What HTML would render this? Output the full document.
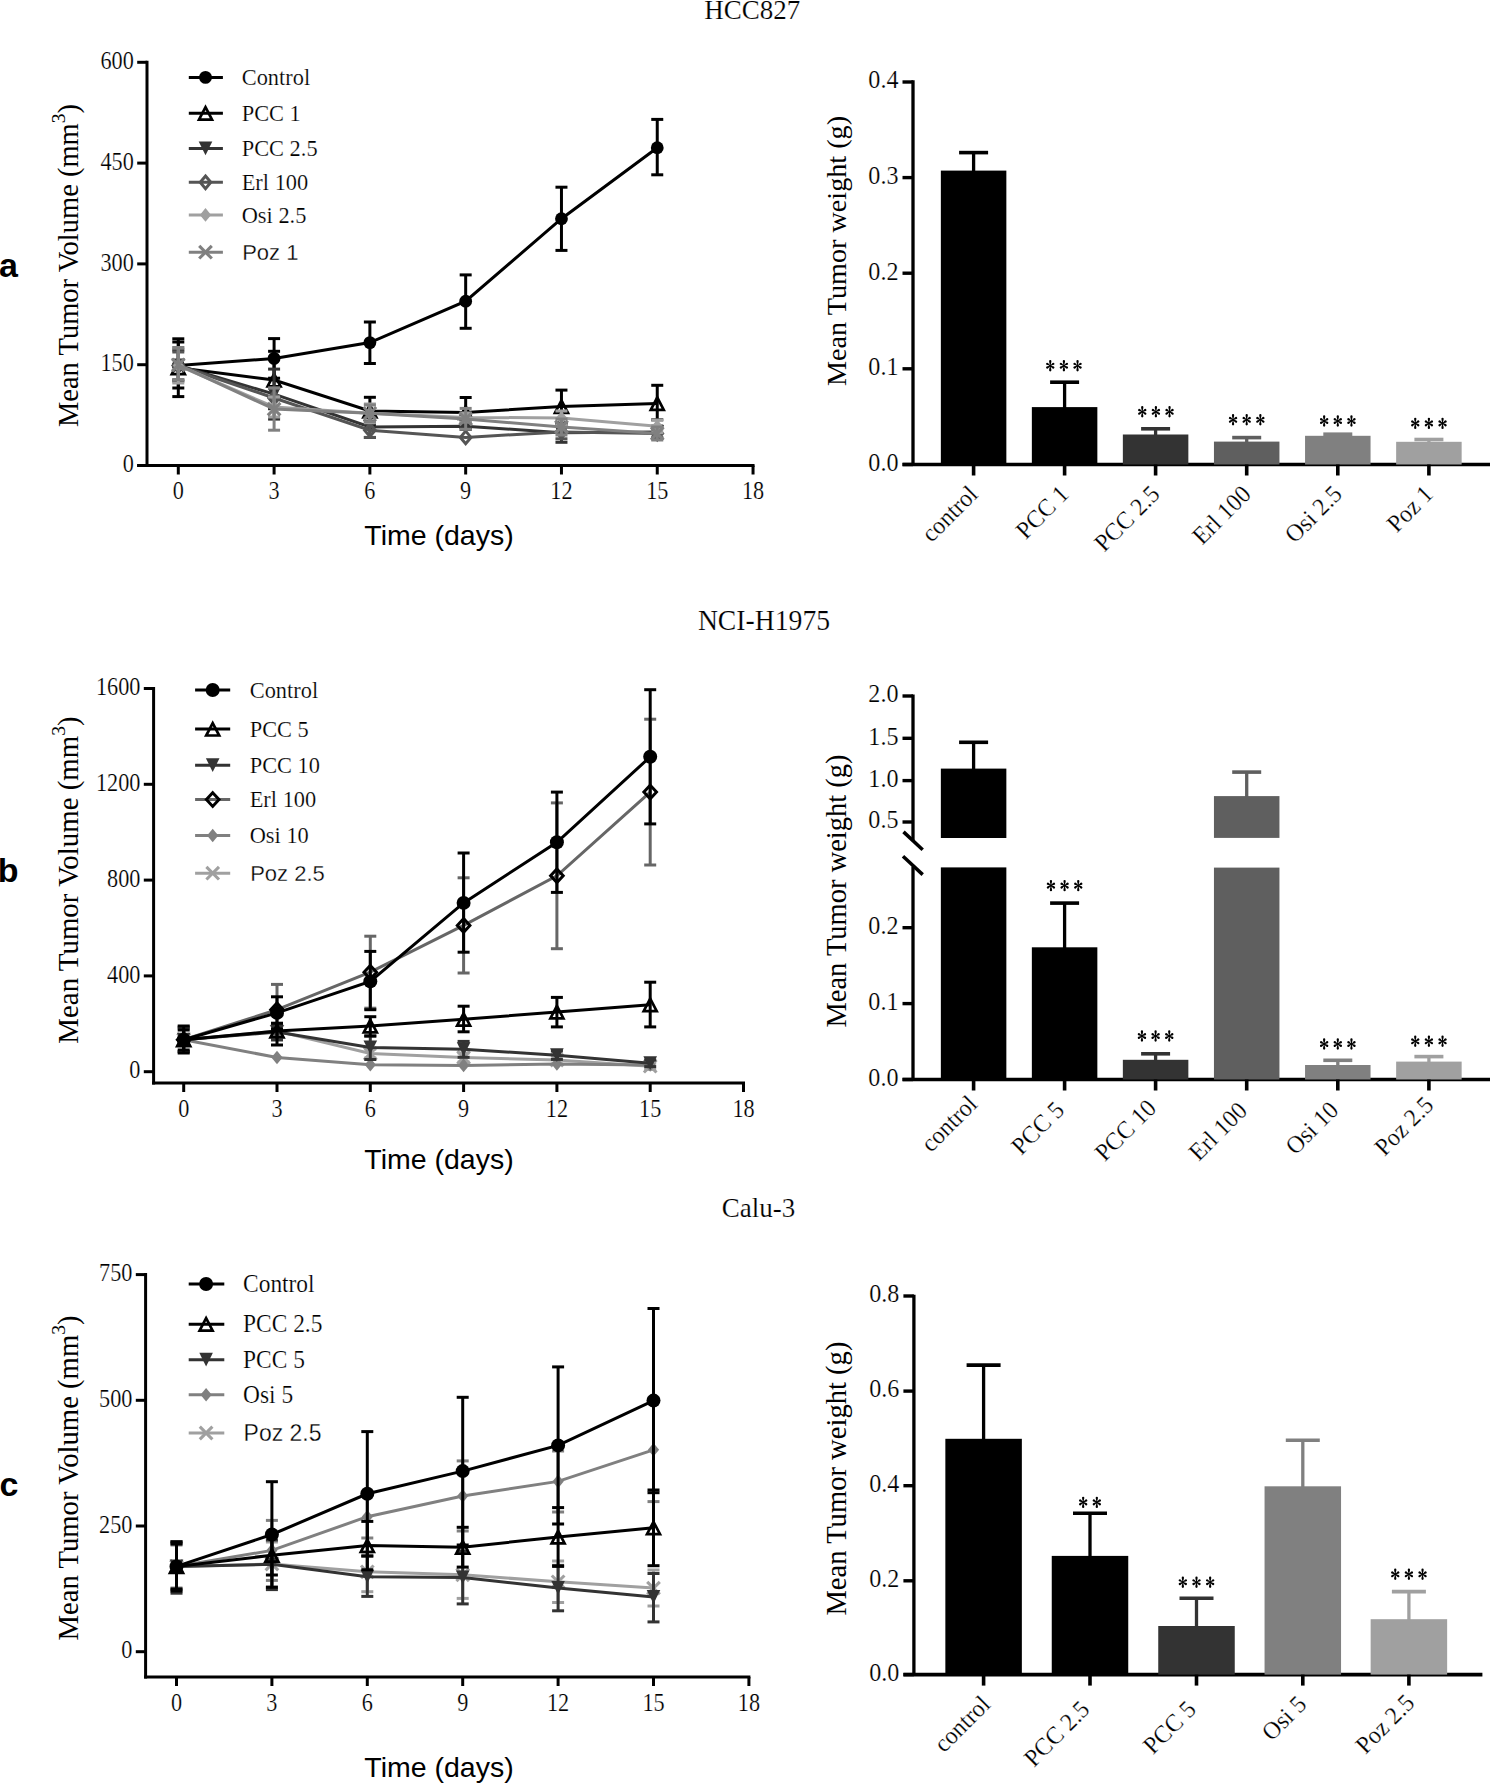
<!DOCTYPE html>
<html><head><meta charset="utf-8"><title>Figure</title>
<style>html,body{margin:0;padding:0;background:#fff;width:1493px;height:1783px;overflow:hidden}svg{display:block}</style>
</head><body>
<svg width="1493" height="1783" viewBox="0 0 1493 1783"><line x1="147" y1="60.8" x2="147" y2="467" stroke="#000" stroke-width="3" stroke-linecap="butt"/>
<line x1="137.2" y1="465.5" x2="754.54" y2="465.5" stroke="#000" stroke-width="3" stroke-linecap="butt"/>
<line x1="137.2" y1="62.3" x2="147" y2="62.3" stroke="#000" stroke-width="3" stroke-linecap="butt"/>
<text x="0" y="0" font-family='"Liberation Serif", serif' font-size="24.3" text-anchor="end" font-weight="normal" fill="#000" transform="translate(133.8,69) scale(0.915,1)" stroke="#fff" stroke-width="0.2">600</text>
<line x1="137.2" y1="163.1" x2="147" y2="163.1" stroke="#000" stroke-width="3" stroke-linecap="butt"/>
<text x="0" y="0" font-family='"Liberation Serif", serif' font-size="24.3" text-anchor="end" font-weight="normal" fill="#000" transform="translate(133.8,169.8) scale(0.915,1)" stroke="#fff" stroke-width="0.2">450</text>
<line x1="137.2" y1="263.9" x2="147" y2="263.9" stroke="#000" stroke-width="3" stroke-linecap="butt"/>
<text x="0" y="0" font-family='"Liberation Serif", serif' font-size="24.3" text-anchor="end" font-weight="normal" fill="#000" transform="translate(133.8,270.6) scale(0.915,1)" stroke="#fff" stroke-width="0.2">300</text>
<line x1="137.2" y1="364.7" x2="147" y2="364.7" stroke="#000" stroke-width="3" stroke-linecap="butt"/>
<text x="0" y="0" font-family='"Liberation Serif", serif' font-size="24.3" text-anchor="end" font-weight="normal" fill="#000" transform="translate(133.8,371.4) scale(0.915,1)" stroke="#fff" stroke-width="0.2">150</text>
<line x1="137.2" y1="465.5" x2="147" y2="465.5" stroke="#000" stroke-width="3" stroke-linecap="butt"/>
<text x="0" y="0" font-family='"Liberation Serif", serif' font-size="24.3" text-anchor="end" font-weight="normal" fill="#000" transform="translate(133.8,472.2) scale(0.915,1)" stroke="#fff" stroke-width="0.2">0</text>
<line x1="178.3" y1="465.5" x2="178.3" y2="474.5" stroke="#000" stroke-width="3" stroke-linecap="butt"/>
<text x="0" y="0" font-family='"Liberation Serif", serif' font-size="24.3" text-anchor="middle" font-weight="normal" fill="#000" transform="translate(178.3,499) scale(0.915,1)" stroke="#fff" stroke-width="0.2">0</text>
<line x1="274.09" y1="465.5" x2="274.09" y2="474.5" stroke="#000" stroke-width="3" stroke-linecap="butt"/>
<text x="0" y="0" font-family='"Liberation Serif", serif' font-size="24.3" text-anchor="middle" font-weight="normal" fill="#000" transform="translate(274.09,499) scale(0.915,1)" stroke="#fff" stroke-width="0.2">3</text>
<line x1="369.88" y1="465.5" x2="369.88" y2="474.5" stroke="#000" stroke-width="3" stroke-linecap="butt"/>
<text x="0" y="0" font-family='"Liberation Serif", serif' font-size="24.3" text-anchor="middle" font-weight="normal" fill="#000" transform="translate(369.88,499) scale(0.915,1)" stroke="#fff" stroke-width="0.2">6</text>
<line x1="465.67" y1="465.5" x2="465.67" y2="474.5" stroke="#000" stroke-width="3" stroke-linecap="butt"/>
<text x="0" y="0" font-family='"Liberation Serif", serif' font-size="24.3" text-anchor="middle" font-weight="normal" fill="#000" transform="translate(465.67,499) scale(0.915,1)" stroke="#fff" stroke-width="0.2">9</text>
<line x1="561.46" y1="465.5" x2="561.46" y2="474.5" stroke="#000" stroke-width="3" stroke-linecap="butt"/>
<text x="0" y="0" font-family='"Liberation Serif", serif' font-size="24.3" text-anchor="middle" font-weight="normal" fill="#000" transform="translate(561.46,499) scale(0.915,1)" stroke="#fff" stroke-width="0.2">12</text>
<line x1="657.25" y1="465.5" x2="657.25" y2="474.5" stroke="#000" stroke-width="3" stroke-linecap="butt"/>
<text x="0" y="0" font-family='"Liberation Serif", serif' font-size="24.3" text-anchor="middle" font-weight="normal" fill="#000" transform="translate(657.25,499) scale(0.915,1)" stroke="#fff" stroke-width="0.2">15</text>
<line x1="753.04" y1="465.5" x2="753.04" y2="474.5" stroke="#000" stroke-width="3" stroke-linecap="butt"/>
<text x="0" y="0" font-family='"Liberation Serif", serif' font-size="24.3" text-anchor="middle" font-weight="normal" fill="#000" transform="translate(753.04,499) scale(0.915,1)" stroke="#fff" stroke-width="0.2">18</text>
<text x="439" y="544.6" font-family='"Liberation Sans", sans-serif' font-size="28.5" text-anchor="middle" font-weight="normal" fill="#000">Time (days)</text>
<text x="0" y="0" font-family='"Liberation Serif", serif' font-size="28.5" text-anchor="middle" transform="translate(77.9,265.5) rotate(-90)">Mean Tumor Volume (mm<tspan dy="-12.5" font-size="19.5">3</tspan><tspan dy="12.5">)</tspan></text>
<polyline points="178.3,365.5 274.09,358.4 369.88,342.6 465.67,301.2 561.46,218.7 657.25,147.7" fill="none" stroke="#000" stroke-width="3" stroke-linejoin="miter"/>
<line x1="178.3" y1="342" x2="178.3" y2="388" stroke="#000" stroke-width="3" stroke-linecap="butt"/>
<line x1="172.3" y1="342" x2="184.3" y2="342" stroke="#000" stroke-width="3" stroke-linecap="butt"/>
<line x1="172.3" y1="388" x2="184.3" y2="388" stroke="#000" stroke-width="3" stroke-linecap="butt"/>
<line x1="274.09" y1="338.6" x2="274.09" y2="378.2" stroke="#000" stroke-width="3" stroke-linecap="butt"/>
<line x1="268.09" y1="338.6" x2="280.09" y2="338.6" stroke="#000" stroke-width="3" stroke-linecap="butt"/>
<line x1="268.09" y1="378.2" x2="280.09" y2="378.2" stroke="#000" stroke-width="3" stroke-linecap="butt"/>
<line x1="369.88" y1="322" x2="369.88" y2="363.5" stroke="#000" stroke-width="3" stroke-linecap="butt"/>
<line x1="363.88" y1="322" x2="375.88" y2="322" stroke="#000" stroke-width="3" stroke-linecap="butt"/>
<line x1="363.88" y1="363.5" x2="375.88" y2="363.5" stroke="#000" stroke-width="3" stroke-linecap="butt"/>
<line x1="465.67" y1="274.9" x2="465.67" y2="328.3" stroke="#000" stroke-width="3" stroke-linecap="butt"/>
<line x1="459.67" y1="274.9" x2="471.67" y2="274.9" stroke="#000" stroke-width="3" stroke-linecap="butt"/>
<line x1="459.67" y1="328.3" x2="471.67" y2="328.3" stroke="#000" stroke-width="3" stroke-linecap="butt"/>
<line x1="561.46" y1="187.2" x2="561.46" y2="250.4" stroke="#000" stroke-width="3" stroke-linecap="butt"/>
<line x1="555.46" y1="187.2" x2="567.46" y2="187.2" stroke="#000" stroke-width="3" stroke-linecap="butt"/>
<line x1="555.46" y1="250.4" x2="567.46" y2="250.4" stroke="#000" stroke-width="3" stroke-linecap="butt"/>
<line x1="657.25" y1="119.4" x2="657.25" y2="174.8" stroke="#000" stroke-width="3" stroke-linecap="butt"/>
<line x1="651.25" y1="119.4" x2="663.25" y2="119.4" stroke="#000" stroke-width="3" stroke-linecap="butt"/>
<line x1="651.25" y1="174.8" x2="663.25" y2="174.8" stroke="#000" stroke-width="3" stroke-linecap="butt"/>
<circle cx="178.3" cy="365.5" r="6.4" fill="#000"/>
<circle cx="274.09" cy="358.4" r="6.4" fill="#000"/>
<circle cx="369.88" cy="342.6" r="6.4" fill="#000"/>
<circle cx="465.67" cy="301.2" r="6.4" fill="#000"/>
<circle cx="561.46" cy="218.7" r="6.4" fill="#000"/>
<circle cx="657.25" cy="147.7" r="6.4" fill="#000"/>
<polyline points="178.3,367.7 274.09,380 369.88,410.9 465.67,412.5 561.46,406.5 657.25,403.5" fill="none" stroke="#000" stroke-width="3" stroke-linejoin="miter"/>
<line x1="178.3" y1="338.8" x2="178.3" y2="396.6" stroke="#000" stroke-width="3" stroke-linecap="butt"/>
<line x1="172.3" y1="338.8" x2="184.3" y2="338.8" stroke="#000" stroke-width="3" stroke-linecap="butt"/>
<line x1="172.3" y1="396.6" x2="184.3" y2="396.6" stroke="#000" stroke-width="3" stroke-linecap="butt"/>
<line x1="274.09" y1="351.3" x2="274.09" y2="408.7" stroke="#000" stroke-width="3" stroke-linecap="butt"/>
<line x1="268.09" y1="351.3" x2="280.09" y2="351.3" stroke="#000" stroke-width="3" stroke-linecap="butt"/>
<line x1="268.09" y1="408.7" x2="280.09" y2="408.7" stroke="#000" stroke-width="3" stroke-linecap="butt"/>
<line x1="369.88" y1="397.3" x2="369.88" y2="424.5" stroke="#000" stroke-width="3" stroke-linecap="butt"/>
<line x1="363.88" y1="397.3" x2="375.88" y2="397.3" stroke="#000" stroke-width="3" stroke-linecap="butt"/>
<line x1="363.88" y1="424.5" x2="375.88" y2="424.5" stroke="#000" stroke-width="3" stroke-linecap="butt"/>
<line x1="465.67" y1="397.5" x2="465.67" y2="427.5" stroke="#000" stroke-width="3" stroke-linecap="butt"/>
<line x1="459.67" y1="397.5" x2="471.67" y2="397.5" stroke="#000" stroke-width="3" stroke-linecap="butt"/>
<line x1="459.67" y1="427.5" x2="471.67" y2="427.5" stroke="#000" stroke-width="3" stroke-linecap="butt"/>
<line x1="561.46" y1="390.1" x2="561.46" y2="423" stroke="#000" stroke-width="3" stroke-linecap="butt"/>
<line x1="555.46" y1="390.1" x2="567.46" y2="390.1" stroke="#000" stroke-width="3" stroke-linecap="butt"/>
<line x1="555.46" y1="423" x2="567.46" y2="423" stroke="#000" stroke-width="3" stroke-linecap="butt"/>
<line x1="657.25" y1="385.3" x2="657.25" y2="419.8" stroke="#000" stroke-width="3" stroke-linecap="butt"/>
<line x1="651.25" y1="385.3" x2="663.25" y2="385.3" stroke="#000" stroke-width="3" stroke-linecap="butt"/>
<line x1="651.25" y1="419.8" x2="663.25" y2="419.8" stroke="#000" stroke-width="3" stroke-linecap="butt"/>
<path d="M178.3,361.7 L184.8,374.1 L171.8,374.1 Z" fill="none" stroke="#000" stroke-width="2.7" stroke-linejoin="miter" stroke-miterlimit="10"/>
<path d="M274.09,374 L280.59,386.4 L267.59,386.4 Z" fill="none" stroke="#000" stroke-width="2.7" stroke-linejoin="miter" stroke-miterlimit="10"/>
<path d="M369.88,404.9 L376.38,417.3 L363.38,417.3 Z" fill="none" stroke="#000" stroke-width="2.7" stroke-linejoin="miter" stroke-miterlimit="10"/>
<path d="M465.67,406.5 L472.17,418.9 L459.17,418.9 Z" fill="none" stroke="#000" stroke-width="2.7" stroke-linejoin="miter" stroke-miterlimit="10"/>
<path d="M561.46,400.5 L567.96,412.9 L554.96,412.9 Z" fill="none" stroke="#000" stroke-width="2.7" stroke-linejoin="miter" stroke-miterlimit="10"/>
<path d="M657.25,397.5 L663.75,409.9 L650.75,409.9 Z" fill="none" stroke="#000" stroke-width="2.7" stroke-linejoin="miter" stroke-miterlimit="10"/>
<polyline points="178.3,365.5 274.09,394.1 369.88,427 465.67,426.2 561.46,432.7 657.25,431.9" fill="none" stroke="#333" stroke-width="3" stroke-linejoin="miter"/>
<line x1="178.3" y1="350" x2="178.3" y2="381" stroke="#333" stroke-width="3" stroke-linecap="butt"/>
<line x1="172.3" y1="350" x2="184.3" y2="350" stroke="#333" stroke-width="3" stroke-linecap="butt"/>
<line x1="172.3" y1="381" x2="184.3" y2="381" stroke="#333" stroke-width="3" stroke-linecap="butt"/>
<line x1="274.09" y1="369.1" x2="274.09" y2="419.1" stroke="#333" stroke-width="3" stroke-linecap="butt"/>
<line x1="268.09" y1="369.1" x2="280.09" y2="369.1" stroke="#333" stroke-width="3" stroke-linecap="butt"/>
<line x1="268.09" y1="419.1" x2="280.09" y2="419.1" stroke="#333" stroke-width="3" stroke-linecap="butt"/>
<line x1="369.88" y1="418" x2="369.88" y2="437.5" stroke="#333" stroke-width="3" stroke-linecap="butt"/>
<line x1="363.88" y1="418" x2="375.88" y2="418" stroke="#333" stroke-width="3" stroke-linecap="butt"/>
<line x1="363.88" y1="437.5" x2="375.88" y2="437.5" stroke="#333" stroke-width="3" stroke-linecap="butt"/>
<line x1="465.67" y1="423" x2="465.67" y2="429.5" stroke="#333" stroke-width="3" stroke-linecap="butt"/>
<line x1="459.67" y1="423" x2="471.67" y2="423" stroke="#333" stroke-width="3" stroke-linecap="butt"/>
<line x1="459.67" y1="429.5" x2="471.67" y2="429.5" stroke="#333" stroke-width="3" stroke-linecap="butt"/>
<line x1="561.46" y1="423" x2="561.46" y2="442.3" stroke="#333" stroke-width="3" stroke-linecap="butt"/>
<line x1="555.46" y1="423" x2="567.46" y2="423" stroke="#333" stroke-width="3" stroke-linecap="butt"/>
<line x1="555.46" y1="442.3" x2="567.46" y2="442.3" stroke="#333" stroke-width="3" stroke-linecap="butt"/>
<line x1="657.25" y1="426" x2="657.25" y2="437.8" stroke="#333" stroke-width="3" stroke-linecap="butt"/>
<line x1="651.25" y1="426" x2="663.25" y2="426" stroke="#333" stroke-width="3" stroke-linecap="butt"/>
<line x1="651.25" y1="437.8" x2="663.25" y2="437.8" stroke="#333" stroke-width="3" stroke-linecap="butt"/>
<path d="M171.5,358.5 L185.1,358.5 L178.3,372.2 Z" fill="#333"/>
<path d="M267.29,387.1 L280.89,387.1 L274.09,400.8 Z" fill="#333"/>
<path d="M363.08,420 L376.68,420 L369.88,433.7 Z" fill="#333"/>
<path d="M458.87,419.2 L472.47,419.2 L465.67,432.9 Z" fill="#333"/>
<path d="M554.66,425.7 L568.26,425.7 L561.46,439.4 Z" fill="#333"/>
<path d="M650.45,424.9 L664.05,424.9 L657.25,438.6 Z" fill="#333"/>
<polyline points="178.3,365.5 274.09,398 369.88,430.2 465.67,437.4 561.46,431.9 657.25,433.5" fill="none" stroke="#555" stroke-width="3" stroke-linejoin="miter"/>
<line x1="178.3" y1="352" x2="178.3" y2="380" stroke="#555" stroke-width="3" stroke-linecap="butt"/>
<line x1="172.3" y1="352" x2="184.3" y2="352" stroke="#555" stroke-width="3" stroke-linecap="butt"/>
<line x1="172.3" y1="380" x2="184.3" y2="380" stroke="#555" stroke-width="3" stroke-linecap="butt"/>
<line x1="274.09" y1="388" x2="274.09" y2="408" stroke="#555" stroke-width="3" stroke-linecap="butt"/>
<line x1="268.09" y1="388" x2="280.09" y2="388" stroke="#555" stroke-width="3" stroke-linecap="butt"/>
<line x1="268.09" y1="408" x2="280.09" y2="408" stroke="#555" stroke-width="3" stroke-linecap="butt"/>
<line x1="369.88" y1="423" x2="369.88" y2="437.4" stroke="#555" stroke-width="3" stroke-linecap="butt"/>
<line x1="363.88" y1="423" x2="375.88" y2="423" stroke="#555" stroke-width="3" stroke-linecap="butt"/>
<line x1="363.88" y1="437.4" x2="375.88" y2="437.4" stroke="#555" stroke-width="3" stroke-linecap="butt"/>
<line x1="561.46" y1="425" x2="561.46" y2="438.8" stroke="#555" stroke-width="3" stroke-linecap="butt"/>
<line x1="555.46" y1="425" x2="567.46" y2="425" stroke="#555" stroke-width="3" stroke-linecap="butt"/>
<line x1="555.46" y1="438.8" x2="567.46" y2="438.8" stroke="#555" stroke-width="3" stroke-linecap="butt"/>
<line x1="657.25" y1="429" x2="657.25" y2="438" stroke="#555" stroke-width="3" stroke-linecap="butt"/>
<line x1="651.25" y1="429" x2="663.25" y2="429" stroke="#555" stroke-width="3" stroke-linecap="butt"/>
<line x1="651.25" y1="438" x2="663.25" y2="438" stroke="#555" stroke-width="3" stroke-linecap="butt"/>
<path d="M178.3,359.2 L183.6,365.5 L178.3,371.8 L173,365.5 Z" fill="none" stroke="#555" stroke-width="3" stroke-linejoin="miter"/>
<path d="M274.09,391.7 L279.39,398 L274.09,404.3 L268.79,398 Z" fill="none" stroke="#555" stroke-width="3" stroke-linejoin="miter"/>
<path d="M369.88,423.9 L375.18,430.2 L369.88,436.5 L364.58,430.2 Z" fill="none" stroke="#555" stroke-width="3" stroke-linejoin="miter"/>
<path d="M465.67,431.1 L470.97,437.4 L465.67,443.7 L460.37,437.4 Z" fill="none" stroke="#555" stroke-width="3" stroke-linejoin="miter"/>
<path d="M561.46,425.6 L566.76,431.9 L561.46,438.2 L556.16,431.9 Z" fill="none" stroke="#555" stroke-width="3" stroke-linejoin="miter"/>
<path d="M657.25,427.2 L662.55,433.5 L657.25,439.8 L651.95,433.5 Z" fill="none" stroke="#555" stroke-width="3" stroke-linejoin="miter"/>
<polyline points="178.3,365.5 274.09,407 369.88,413.3 465.67,417.4 561.46,417.9 657.25,426.3" fill="none" stroke="#a0a0a0" stroke-width="3" stroke-linejoin="miter"/>
<line x1="178.3" y1="348" x2="178.3" y2="383" stroke="#a0a0a0" stroke-width="3" stroke-linecap="butt"/>
<line x1="172.3" y1="348" x2="184.3" y2="348" stroke="#a0a0a0" stroke-width="3" stroke-linecap="butt"/>
<line x1="172.3" y1="383" x2="184.3" y2="383" stroke="#a0a0a0" stroke-width="3" stroke-linecap="butt"/>
<line x1="274.09" y1="397" x2="274.09" y2="417" stroke="#a0a0a0" stroke-width="3" stroke-linecap="butt"/>
<line x1="268.09" y1="397" x2="280.09" y2="397" stroke="#a0a0a0" stroke-width="3" stroke-linecap="butt"/>
<line x1="268.09" y1="417" x2="280.09" y2="417" stroke="#a0a0a0" stroke-width="3" stroke-linecap="butt"/>
<line x1="369.88" y1="404" x2="369.88" y2="422.6" stroke="#a0a0a0" stroke-width="3" stroke-linecap="butt"/>
<line x1="363.88" y1="404" x2="375.88" y2="404" stroke="#a0a0a0" stroke-width="3" stroke-linecap="butt"/>
<line x1="363.88" y1="422.6" x2="375.88" y2="422.6" stroke="#a0a0a0" stroke-width="3" stroke-linecap="butt"/>
<line x1="465.67" y1="413" x2="465.67" y2="422" stroke="#a0a0a0" stroke-width="3" stroke-linecap="butt"/>
<line x1="459.67" y1="413" x2="471.67" y2="413" stroke="#a0a0a0" stroke-width="3" stroke-linecap="butt"/>
<line x1="459.67" y1="422" x2="471.67" y2="422" stroke="#a0a0a0" stroke-width="3" stroke-linecap="butt"/>
<line x1="561.46" y1="411" x2="561.46" y2="424.8" stroke="#a0a0a0" stroke-width="3" stroke-linecap="butt"/>
<line x1="555.46" y1="411" x2="567.46" y2="411" stroke="#a0a0a0" stroke-width="3" stroke-linecap="butt"/>
<line x1="555.46" y1="424.8" x2="567.46" y2="424.8" stroke="#a0a0a0" stroke-width="3" stroke-linecap="butt"/>
<line x1="657.25" y1="420" x2="657.25" y2="432.6" stroke="#a0a0a0" stroke-width="3" stroke-linecap="butt"/>
<line x1="651.25" y1="420" x2="663.25" y2="420" stroke="#a0a0a0" stroke-width="3" stroke-linecap="butt"/>
<line x1="651.25" y1="432.6" x2="663.25" y2="432.6" stroke="#a0a0a0" stroke-width="3" stroke-linecap="butt"/>
<path d="M178.3,358.7 L183.9,365.5 L178.3,372.3 L172.7,365.5 Z" fill="#a0a0a0"/>
<path d="M274.09,400.2 L279.69,407 L274.09,413.8 L268.49,407 Z" fill="#a0a0a0"/>
<path d="M369.88,406.5 L375.48,413.3 L369.88,420.1 L364.28,413.3 Z" fill="#a0a0a0"/>
<path d="M465.67,410.6 L471.27,417.4 L465.67,424.2 L460.07,417.4 Z" fill="#a0a0a0"/>
<path d="M561.46,411.1 L567.06,417.9 L561.46,424.7 L555.86,417.9 Z" fill="#a0a0a0"/>
<path d="M657.25,419.5 L662.85,426.3 L657.25,433.1 L651.65,426.3 Z" fill="#a0a0a0"/>
<polyline points="178.3,365 274.09,409.1 369.88,413.3 465.67,418.9 561.46,427 657.25,433.5" fill="none" stroke="#808080" stroke-width="3" stroke-linejoin="miter"/>
<line x1="178.3" y1="347.5" x2="178.3" y2="379.5" stroke="#808080" stroke-width="3" stroke-linecap="butt"/>
<line x1="172.3" y1="347.5" x2="184.3" y2="347.5" stroke="#808080" stroke-width="3" stroke-linecap="butt"/>
<line x1="172.3" y1="379.5" x2="184.3" y2="379.5" stroke="#808080" stroke-width="3" stroke-linecap="butt"/>
<line x1="274.09" y1="388" x2="274.09" y2="430.2" stroke="#808080" stroke-width="3" stroke-linecap="butt"/>
<line x1="268.09" y1="388" x2="280.09" y2="388" stroke="#808080" stroke-width="3" stroke-linecap="butt"/>
<line x1="268.09" y1="430.2" x2="280.09" y2="430.2" stroke="#808080" stroke-width="3" stroke-linecap="butt"/>
<line x1="369.88" y1="405" x2="369.88" y2="421.6" stroke="#808080" stroke-width="3" stroke-linecap="butt"/>
<line x1="363.88" y1="405" x2="375.88" y2="405" stroke="#808080" stroke-width="3" stroke-linecap="butt"/>
<line x1="363.88" y1="421.6" x2="375.88" y2="421.6" stroke="#808080" stroke-width="3" stroke-linecap="butt"/>
<line x1="465.67" y1="408.4" x2="465.67" y2="429.3" stroke="#808080" stroke-width="3" stroke-linecap="butt"/>
<line x1="459.67" y1="408.4" x2="471.67" y2="408.4" stroke="#808080" stroke-width="3" stroke-linecap="butt"/>
<line x1="459.67" y1="429.3" x2="471.67" y2="429.3" stroke="#808080" stroke-width="3" stroke-linecap="butt"/>
<line x1="561.46" y1="419" x2="561.46" y2="435" stroke="#808080" stroke-width="3" stroke-linecap="butt"/>
<line x1="555.46" y1="419" x2="567.46" y2="419" stroke="#808080" stroke-width="3" stroke-linecap="butt"/>
<line x1="555.46" y1="435" x2="567.46" y2="435" stroke="#808080" stroke-width="3" stroke-linecap="butt"/>
<line x1="657.25" y1="427" x2="657.25" y2="440" stroke="#808080" stroke-width="3" stroke-linecap="butt"/>
<line x1="651.25" y1="427" x2="663.25" y2="427" stroke="#808080" stroke-width="3" stroke-linecap="butt"/>
<line x1="651.25" y1="440" x2="663.25" y2="440" stroke="#808080" stroke-width="3" stroke-linecap="butt"/>
<line x1="172" y1="358.7" x2="184.6" y2="371.3" stroke="#808080" stroke-width="3.1" stroke-linecap="butt"/>
<line x1="172" y1="371.3" x2="184.6" y2="358.7" stroke="#808080" stroke-width="3.1" stroke-linecap="butt"/>
<line x1="267.79" y1="402.8" x2="280.39" y2="415.4" stroke="#808080" stroke-width="3.1" stroke-linecap="butt"/>
<line x1="267.79" y1="415.4" x2="280.39" y2="402.8" stroke="#808080" stroke-width="3.1" stroke-linecap="butt"/>
<line x1="363.58" y1="407" x2="376.18" y2="419.6" stroke="#808080" stroke-width="3.1" stroke-linecap="butt"/>
<line x1="363.58" y1="419.6" x2="376.18" y2="407" stroke="#808080" stroke-width="3.1" stroke-linecap="butt"/>
<line x1="459.37" y1="412.6" x2="471.97" y2="425.2" stroke="#808080" stroke-width="3.1" stroke-linecap="butt"/>
<line x1="459.37" y1="425.2" x2="471.97" y2="412.6" stroke="#808080" stroke-width="3.1" stroke-linecap="butt"/>
<line x1="555.16" y1="420.7" x2="567.76" y2="433.3" stroke="#808080" stroke-width="3.1" stroke-linecap="butt"/>
<line x1="555.16" y1="433.3" x2="567.76" y2="420.7" stroke="#808080" stroke-width="3.1" stroke-linecap="butt"/>
<line x1="650.95" y1="427.2" x2="663.55" y2="439.8" stroke="#808080" stroke-width="3.1" stroke-linecap="butt"/>
<line x1="650.95" y1="439.8" x2="663.55" y2="427.2" stroke="#808080" stroke-width="3.1" stroke-linecap="butt"/>
<line x1="188.8" y1="77.4" x2="222.9" y2="77.4" stroke="#000" stroke-width="3" stroke-linecap="butt"/>
<circle cx="205.5" cy="77.4" r="6.4" fill="#000"/>
<text x="0" y="0" font-family='"Liberation Serif", serif' font-size="23.7" text-anchor="start" font-weight="normal" fill="#000" transform="translate(241.7,85) scale(0.945,1)" stroke="#fff" stroke-width="0.2">Control</text>
<line x1="188.8" y1="113.2" x2="222.9" y2="113.2" stroke="#000" stroke-width="3" stroke-linecap="butt"/>
<path d="M205.5,107.2 L212,119.6 L199,119.6 Z" fill="none" stroke="#000" stroke-width="2.7" stroke-linejoin="miter" stroke-miterlimit="10"/>
<text x="0" y="0" font-family='"Liberation Serif", serif' font-size="23.7" text-anchor="start" font-weight="normal" fill="#000" transform="translate(241.7,120.8) scale(0.945,1)" stroke="#fff" stroke-width="0.2">PCC 1</text>
<line x1="188.8" y1="148.5" x2="222.9" y2="148.5" stroke="#333" stroke-width="3" stroke-linecap="butt"/>
<path d="M198.7,141.5 L212.3,141.5 L205.5,155.2 Z" fill="#333"/>
<text x="0" y="0" font-family='"Liberation Serif", serif' font-size="23.7" text-anchor="start" font-weight="normal" fill="#000" transform="translate(241.7,156.1) scale(0.945,1)" stroke="#fff" stroke-width="0.2">PCC 2.5</text>
<line x1="188.8" y1="182.3" x2="222.9" y2="182.3" stroke="#555" stroke-width="3" stroke-linecap="butt"/>
<path d="M205.5,176 L210.8,182.3 L205.5,188.6 L200.2,182.3 Z" fill="none" stroke="#555" stroke-width="3" stroke-linejoin="miter"/>
<text x="0" y="0" font-family='"Liberation Serif", serif' font-size="23.7" text-anchor="start" font-weight="normal" fill="#000" transform="translate(241.7,189.9) scale(0.945,1)" stroke="#fff" stroke-width="0.2">Erl 100</text>
<line x1="188.8" y1="214.9" x2="222.9" y2="214.9" stroke="#a0a0a0" stroke-width="3" stroke-linecap="butt"/>
<path d="M205.5,208.1 L211.1,214.9 L205.5,221.7 L199.9,214.9 Z" fill="#a0a0a0"/>
<text x="0" y="0" font-family='"Liberation Serif", serif' font-size="23.7" text-anchor="start" font-weight="normal" fill="#000" transform="translate(241.7,222.5) scale(0.945,1)" stroke="#fff" stroke-width="0.2">Osi 2.5</text>
<line x1="188.8" y1="252.2" x2="222.9" y2="252.2" stroke="#808080" stroke-width="3" stroke-linecap="butt"/>
<line x1="199.2" y1="245.9" x2="211.8" y2="258.5" stroke="#808080" stroke-width="3.1" stroke-linecap="butt"/>
<line x1="199.2" y1="258.5" x2="211.8" y2="245.9" stroke="#808080" stroke-width="3.1" stroke-linecap="butt"/>
<text x="242.2" y="260" font-family='"Liberation Sans", sans-serif' font-size="22" text-anchor="start" font-weight="normal" fill="#000" stroke="#fff" stroke-width="0.3">Poz 1</text>
<line x1="153.6" y1="687" x2="153.6" y2="1084.5" stroke="#000" stroke-width="3" stroke-linecap="butt"/>
<line x1="152.1" y1="1083" x2="745" y2="1083" stroke="#000" stroke-width="3" stroke-linecap="butt"/>
<line x1="143.8" y1="688.5" x2="153.6" y2="688.5" stroke="#000" stroke-width="3" stroke-linecap="butt"/>
<text x="0" y="0" font-family='"Liberation Serif", serif' font-size="24.3" text-anchor="end" font-weight="normal" fill="#000" transform="translate(140.4,695.2) scale(0.915,1)" stroke="#fff" stroke-width="0.2">1600</text>
<line x1="143.8" y1="784.3" x2="153.6" y2="784.3" stroke="#000" stroke-width="3" stroke-linecap="butt"/>
<text x="0" y="0" font-family='"Liberation Serif", serif' font-size="24.3" text-anchor="end" font-weight="normal" fill="#000" transform="translate(140.4,791) scale(0.915,1)" stroke="#fff" stroke-width="0.2">1200</text>
<line x1="143.8" y1="880.1" x2="153.6" y2="880.1" stroke="#000" stroke-width="3" stroke-linecap="butt"/>
<text x="0" y="0" font-family='"Liberation Serif", serif' font-size="24.3" text-anchor="end" font-weight="normal" fill="#000" transform="translate(140.4,886.8) scale(0.915,1)" stroke="#fff" stroke-width="0.2">800</text>
<line x1="143.8" y1="975.9" x2="153.6" y2="975.9" stroke="#000" stroke-width="3" stroke-linecap="butt"/>
<text x="0" y="0" font-family='"Liberation Serif", serif' font-size="24.3" text-anchor="end" font-weight="normal" fill="#000" transform="translate(140.4,982.6) scale(0.915,1)" stroke="#fff" stroke-width="0.2">400</text>
<line x1="143.8" y1="1071.7" x2="153.6" y2="1071.7" stroke="#000" stroke-width="3" stroke-linecap="butt"/>
<text x="0" y="0" font-family='"Liberation Serif", serif' font-size="24.3" text-anchor="end" font-weight="normal" fill="#000" transform="translate(140.4,1078.4) scale(0.915,1)" stroke="#fff" stroke-width="0.2">0</text>
<line x1="183.7" y1="1083" x2="183.7" y2="1092" stroke="#000" stroke-width="3" stroke-linecap="butt"/>
<text x="0" y="0" font-family='"Liberation Serif", serif' font-size="24.3" text-anchor="middle" font-weight="normal" fill="#000" transform="translate(183.7,1116.5) scale(0.915,1)" stroke="#fff" stroke-width="0.2">0</text>
<line x1="277" y1="1083" x2="277" y2="1092" stroke="#000" stroke-width="3" stroke-linecap="butt"/>
<text x="0" y="0" font-family='"Liberation Serif", serif' font-size="24.3" text-anchor="middle" font-weight="normal" fill="#000" transform="translate(277,1116.5) scale(0.915,1)" stroke="#fff" stroke-width="0.2">3</text>
<line x1="370.3" y1="1083" x2="370.3" y2="1092" stroke="#000" stroke-width="3" stroke-linecap="butt"/>
<text x="0" y="0" font-family='"Liberation Serif", serif' font-size="24.3" text-anchor="middle" font-weight="normal" fill="#000" transform="translate(370.3,1116.5) scale(0.915,1)" stroke="#fff" stroke-width="0.2">6</text>
<line x1="463.6" y1="1083" x2="463.6" y2="1092" stroke="#000" stroke-width="3" stroke-linecap="butt"/>
<text x="0" y="0" font-family='"Liberation Serif", serif' font-size="24.3" text-anchor="middle" font-weight="normal" fill="#000" transform="translate(463.6,1116.5) scale(0.915,1)" stroke="#fff" stroke-width="0.2">9</text>
<line x1="556.9" y1="1083" x2="556.9" y2="1092" stroke="#000" stroke-width="3" stroke-linecap="butt"/>
<text x="0" y="0" font-family='"Liberation Serif", serif' font-size="24.3" text-anchor="middle" font-weight="normal" fill="#000" transform="translate(556.9,1116.5) scale(0.915,1)" stroke="#fff" stroke-width="0.2">12</text>
<line x1="650.2" y1="1083" x2="650.2" y2="1092" stroke="#000" stroke-width="3" stroke-linecap="butt"/>
<text x="0" y="0" font-family='"Liberation Serif", serif' font-size="24.3" text-anchor="middle" font-weight="normal" fill="#000" transform="translate(650.2,1116.5) scale(0.915,1)" stroke="#fff" stroke-width="0.2">15</text>
<line x1="743.5" y1="1083" x2="743.5" y2="1092" stroke="#000" stroke-width="3" stroke-linecap="butt"/>
<text x="0" y="0" font-family='"Liberation Serif", serif' font-size="24.3" text-anchor="middle" font-weight="normal" fill="#000" transform="translate(743.5,1116.5) scale(0.915,1)" stroke="#fff" stroke-width="0.2">18</text>
<text x="439" y="1169.1" font-family='"Liberation Sans", sans-serif' font-size="28.5" text-anchor="middle" font-weight="normal" fill="#000">Time (days)</text>
<text x="0" y="0" font-family='"Liberation Serif", serif' font-size="28.9" text-anchor="middle" transform="translate(77.9,880) rotate(-90)">Mean Tumor Volume (mm<tspan dy="-12.5" font-size="19.5">3</tspan><tspan dy="12.5">)</tspan></text>
<polyline points="183.7,1039.7 277,1031 370.3,1053.5 463.6,1057.5 556.9,1060 650.2,1066.2" fill="none" stroke="#a0a0a0" stroke-width="3" stroke-linejoin="miter"/>
<line x1="370.3" y1="1049" x2="370.3" y2="1058" stroke="#a0a0a0" stroke-width="3" stroke-linecap="butt"/>
<line x1="364.3" y1="1049" x2="376.3" y2="1049" stroke="#a0a0a0" stroke-width="3" stroke-linecap="butt"/>
<line x1="364.3" y1="1058" x2="376.3" y2="1058" stroke="#a0a0a0" stroke-width="3" stroke-linecap="butt"/>
<line x1="463.6" y1="1053" x2="463.6" y2="1062" stroke="#a0a0a0" stroke-width="3" stroke-linecap="butt"/>
<line x1="457.6" y1="1053" x2="469.6" y2="1053" stroke="#a0a0a0" stroke-width="3" stroke-linecap="butt"/>
<line x1="457.6" y1="1062" x2="469.6" y2="1062" stroke="#a0a0a0" stroke-width="3" stroke-linecap="butt"/>
<line x1="556.9" y1="1056" x2="556.9" y2="1064" stroke="#a0a0a0" stroke-width="3" stroke-linecap="butt"/>
<line x1="550.9" y1="1056" x2="562.9" y2="1056" stroke="#a0a0a0" stroke-width="3" stroke-linecap="butt"/>
<line x1="550.9" y1="1064" x2="562.9" y2="1064" stroke="#a0a0a0" stroke-width="3" stroke-linecap="butt"/>
<line x1="650.2" y1="1063" x2="650.2" y2="1069.4" stroke="#a0a0a0" stroke-width="3" stroke-linecap="butt"/>
<line x1="644.2" y1="1063" x2="656.2" y2="1063" stroke="#a0a0a0" stroke-width="3" stroke-linecap="butt"/>
<line x1="644.2" y1="1069.4" x2="656.2" y2="1069.4" stroke="#a0a0a0" stroke-width="3" stroke-linecap="butt"/>
<line x1="177.4" y1="1033.4" x2="190" y2="1046" stroke="#a0a0a0" stroke-width="3.1" stroke-linecap="butt"/>
<line x1="177.4" y1="1046" x2="190" y2="1033.4" stroke="#a0a0a0" stroke-width="3.1" stroke-linecap="butt"/>
<line x1="270.7" y1="1024.7" x2="283.3" y2="1037.3" stroke="#a0a0a0" stroke-width="3.1" stroke-linecap="butt"/>
<line x1="270.7" y1="1037.3" x2="283.3" y2="1024.7" stroke="#a0a0a0" stroke-width="3.1" stroke-linecap="butt"/>
<line x1="364" y1="1047.2" x2="376.6" y2="1059.8" stroke="#a0a0a0" stroke-width="3.1" stroke-linecap="butt"/>
<line x1="364" y1="1059.8" x2="376.6" y2="1047.2" stroke="#a0a0a0" stroke-width="3.1" stroke-linecap="butt"/>
<line x1="457.3" y1="1051.2" x2="469.9" y2="1063.8" stroke="#a0a0a0" stroke-width="3.1" stroke-linecap="butt"/>
<line x1="457.3" y1="1063.8" x2="469.9" y2="1051.2" stroke="#a0a0a0" stroke-width="3.1" stroke-linecap="butt"/>
<line x1="550.6" y1="1053.7" x2="563.2" y2="1066.3" stroke="#a0a0a0" stroke-width="3.1" stroke-linecap="butt"/>
<line x1="550.6" y1="1066.3" x2="563.2" y2="1053.7" stroke="#a0a0a0" stroke-width="3.1" stroke-linecap="butt"/>
<line x1="643.9" y1="1059.9" x2="656.5" y2="1072.5" stroke="#a0a0a0" stroke-width="3.1" stroke-linecap="butt"/>
<line x1="643.9" y1="1072.5" x2="656.5" y2="1059.9" stroke="#a0a0a0" stroke-width="3.1" stroke-linecap="butt"/>
<polyline points="183.7,1039.7 277,1057.5 370.3,1064.7 463.6,1065.4 556.9,1063.9 650.2,1065" fill="none" stroke="#808080" stroke-width="3" stroke-linejoin="miter"/>
<path d="M183.7,1032.9 L189.3,1039.7 L183.7,1046.5 L178.1,1039.7 Z" fill="#808080"/>
<path d="M277,1050.7 L282.6,1057.5 L277,1064.3 L271.4,1057.5 Z" fill="#808080"/>
<path d="M370.3,1057.9 L375.9,1064.7 L370.3,1071.5 L364.7,1064.7 Z" fill="#808080"/>
<path d="M463.6,1058.6 L469.2,1065.4 L463.6,1072.2 L458,1065.4 Z" fill="#808080"/>
<path d="M556.9,1057.1 L562.5,1063.9 L556.9,1070.7 L551.3,1063.9 Z" fill="#808080"/>
<path d="M650.2,1058.2 L655.8,1065 L650.2,1071.8 L644.6,1065 Z" fill="#808080"/>
<polyline points="183.7,1039.7 277,1009.7 370.3,972.2 463.6,925.4 556.9,875.8 650.2,792.1" fill="none" stroke="#666" stroke-width="3" stroke-linejoin="miter"/>
<line x1="183.7" y1="1027" x2="183.7" y2="1052" stroke="#666" stroke-width="3" stroke-linecap="butt"/>
<line x1="177.7" y1="1027" x2="189.7" y2="1027" stroke="#666" stroke-width="3" stroke-linecap="butt"/>
<line x1="177.7" y1="1052" x2="189.7" y2="1052" stroke="#666" stroke-width="3" stroke-linecap="butt"/>
<line x1="277" y1="984.4" x2="277" y2="1035" stroke="#666" stroke-width="3" stroke-linecap="butt"/>
<line x1="271" y1="984.4" x2="283" y2="984.4" stroke="#666" stroke-width="3" stroke-linecap="butt"/>
<line x1="271" y1="1035" x2="283" y2="1035" stroke="#666" stroke-width="3" stroke-linecap="butt"/>
<line x1="370.3" y1="936.2" x2="370.3" y2="1008.2" stroke="#666" stroke-width="3" stroke-linecap="butt"/>
<line x1="364.3" y1="936.2" x2="376.3" y2="936.2" stroke="#666" stroke-width="3" stroke-linecap="butt"/>
<line x1="364.3" y1="1008.2" x2="376.3" y2="1008.2" stroke="#666" stroke-width="3" stroke-linecap="butt"/>
<line x1="463.6" y1="877.8" x2="463.6" y2="973" stroke="#666" stroke-width="3" stroke-linecap="butt"/>
<line x1="457.6" y1="877.8" x2="469.6" y2="877.8" stroke="#666" stroke-width="3" stroke-linecap="butt"/>
<line x1="457.6" y1="973" x2="469.6" y2="973" stroke="#666" stroke-width="3" stroke-linecap="butt"/>
<line x1="556.9" y1="802.9" x2="556.9" y2="948.7" stroke="#666" stroke-width="3" stroke-linecap="butt"/>
<line x1="550.9" y1="802.9" x2="562.9" y2="802.9" stroke="#666" stroke-width="3" stroke-linecap="butt"/>
<line x1="550.9" y1="948.7" x2="562.9" y2="948.7" stroke="#666" stroke-width="3" stroke-linecap="butt"/>
<line x1="650.2" y1="719.2" x2="650.2" y2="865" stroke="#666" stroke-width="3" stroke-linecap="butt"/>
<line x1="644.2" y1="719.2" x2="656.2" y2="719.2" stroke="#666" stroke-width="3" stroke-linecap="butt"/>
<line x1="644.2" y1="865" x2="656.2" y2="865" stroke="#666" stroke-width="3" stroke-linecap="butt"/>
<path d="M183.7,1032.9 L190,1039.7 L183.7,1046.5 L177.4,1039.7 Z" fill="none" stroke="#000" stroke-width="3" stroke-linejoin="miter"/>
<path d="M277,1002.9 L283.3,1009.7 L277,1016.5 L270.7,1009.7 Z" fill="none" stroke="#000" stroke-width="3" stroke-linejoin="miter"/>
<path d="M370.3,965.4 L376.6,972.2 L370.3,979 L364,972.2 Z" fill="none" stroke="#000" stroke-width="3" stroke-linejoin="miter"/>
<path d="M463.6,918.6 L469.9,925.4 L463.6,932.2 L457.3,925.4 Z" fill="none" stroke="#000" stroke-width="3" stroke-linejoin="miter"/>
<path d="M556.9,869 L563.2,875.8 L556.9,882.6 L550.6,875.8 Z" fill="none" stroke="#000" stroke-width="3" stroke-linejoin="miter"/>
<path d="M650.2,785.3 L656.5,792.1 L650.2,798.9 L643.9,792.1 Z" fill="none" stroke="#000" stroke-width="3" stroke-linejoin="miter"/>
<polyline points="183.7,1039.7 277,1032 370.3,1047.6 463.6,1049.3 556.9,1055.2 650.2,1063.3" fill="none" stroke="#333" stroke-width="3" stroke-linejoin="miter"/>
<line x1="183.7" y1="1028" x2="183.7" y2="1051.5" stroke="#333" stroke-width="3" stroke-linecap="butt"/>
<line x1="177.7" y1="1028" x2="189.7" y2="1028" stroke="#333" stroke-width="3" stroke-linecap="butt"/>
<line x1="177.7" y1="1051.5" x2="189.7" y2="1051.5" stroke="#333" stroke-width="3" stroke-linecap="butt"/>
<line x1="277" y1="1024" x2="277" y2="1040" stroke="#333" stroke-width="3" stroke-linecap="butt"/>
<line x1="271" y1="1024" x2="283" y2="1024" stroke="#333" stroke-width="3" stroke-linecap="butt"/>
<line x1="271" y1="1040" x2="283" y2="1040" stroke="#333" stroke-width="3" stroke-linecap="butt"/>
<line x1="370.3" y1="1036" x2="370.3" y2="1059.5" stroke="#333" stroke-width="3" stroke-linecap="butt"/>
<line x1="364.3" y1="1036" x2="376.3" y2="1036" stroke="#333" stroke-width="3" stroke-linecap="butt"/>
<line x1="364.3" y1="1059.5" x2="376.3" y2="1059.5" stroke="#333" stroke-width="3" stroke-linecap="butt"/>
<line x1="463.6" y1="1041.4" x2="463.6" y2="1057.3" stroke="#333" stroke-width="3" stroke-linecap="butt"/>
<line x1="457.6" y1="1041.4" x2="469.6" y2="1041.4" stroke="#333" stroke-width="3" stroke-linecap="butt"/>
<line x1="457.6" y1="1057.3" x2="469.6" y2="1057.3" stroke="#333" stroke-width="3" stroke-linecap="butt"/>
<line x1="556.9" y1="1051" x2="556.9" y2="1059.4" stroke="#333" stroke-width="3" stroke-linecap="butt"/>
<line x1="550.9" y1="1051" x2="562.9" y2="1051" stroke="#333" stroke-width="3" stroke-linecap="butt"/>
<line x1="550.9" y1="1059.4" x2="562.9" y2="1059.4" stroke="#333" stroke-width="3" stroke-linecap="butt"/>
<line x1="650.2" y1="1060" x2="650.2" y2="1066.6" stroke="#333" stroke-width="3" stroke-linecap="butt"/>
<line x1="644.2" y1="1060" x2="656.2" y2="1060" stroke="#333" stroke-width="3" stroke-linecap="butt"/>
<line x1="644.2" y1="1066.6" x2="656.2" y2="1066.6" stroke="#333" stroke-width="3" stroke-linecap="butt"/>
<path d="M176.9,1032.7 L190.5,1032.7 L183.7,1046.4 Z" fill="#333"/>
<path d="M270.2,1025 L283.8,1025 L277,1038.7 Z" fill="#333"/>
<path d="M363.5,1040.6 L377.1,1040.6 L370.3,1054.3 Z" fill="#333"/>
<path d="M456.8,1042.3 L470.4,1042.3 L463.6,1056 Z" fill="#333"/>
<path d="M550.1,1048.2 L563.7,1048.2 L556.9,1061.9 Z" fill="#333"/>
<path d="M643.4,1056.3 L657,1056.3 L650.2,1070 Z" fill="#333"/>
<polyline points="183.7,1039.7 277,1031 370.3,1026 463.6,1019.3 556.9,1012 650.2,1004.7" fill="none" stroke="#000" stroke-width="3" stroke-linejoin="miter"/>
<line x1="183.7" y1="1030" x2="183.7" y2="1050" stroke="#000" stroke-width="3" stroke-linecap="butt"/>
<line x1="177.7" y1="1030" x2="189.7" y2="1030" stroke="#000" stroke-width="3" stroke-linecap="butt"/>
<line x1="177.7" y1="1050" x2="189.7" y2="1050" stroke="#000" stroke-width="3" stroke-linecap="butt"/>
<line x1="277" y1="1023.2" x2="277" y2="1045" stroke="#000" stroke-width="3" stroke-linecap="butt"/>
<line x1="271" y1="1023.2" x2="283" y2="1023.2" stroke="#000" stroke-width="3" stroke-linecap="butt"/>
<line x1="271" y1="1045" x2="283" y2="1045" stroke="#000" stroke-width="3" stroke-linecap="butt"/>
<line x1="370.3" y1="1016.7" x2="370.3" y2="1036" stroke="#000" stroke-width="3" stroke-linecap="butt"/>
<line x1="364.3" y1="1016.7" x2="376.3" y2="1016.7" stroke="#000" stroke-width="3" stroke-linecap="butt"/>
<line x1="364.3" y1="1036" x2="376.3" y2="1036" stroke="#000" stroke-width="3" stroke-linecap="butt"/>
<line x1="463.6" y1="1006.2" x2="463.6" y2="1031.8" stroke="#000" stroke-width="3" stroke-linecap="butt"/>
<line x1="457.6" y1="1006.2" x2="469.6" y2="1006.2" stroke="#000" stroke-width="3" stroke-linecap="butt"/>
<line x1="457.6" y1="1031.8" x2="469.6" y2="1031.8" stroke="#000" stroke-width="3" stroke-linecap="butt"/>
<line x1="556.9" y1="997.4" x2="556.9" y2="1026.9" stroke="#000" stroke-width="3" stroke-linecap="butt"/>
<line x1="550.9" y1="997.4" x2="562.9" y2="997.4" stroke="#000" stroke-width="3" stroke-linecap="butt"/>
<line x1="550.9" y1="1026.9" x2="562.9" y2="1026.9" stroke="#000" stroke-width="3" stroke-linecap="butt"/>
<line x1="650.2" y1="982.2" x2="650.2" y2="1026.9" stroke="#000" stroke-width="3" stroke-linecap="butt"/>
<line x1="644.2" y1="982.2" x2="656.2" y2="982.2" stroke="#000" stroke-width="3" stroke-linecap="butt"/>
<line x1="644.2" y1="1026.9" x2="656.2" y2="1026.9" stroke="#000" stroke-width="3" stroke-linecap="butt"/>
<path d="M183.7,1033.7 L190.2,1046.1 L177.2,1046.1 Z" fill="none" stroke="#000" stroke-width="2.7" stroke-linejoin="miter" stroke-miterlimit="10"/>
<path d="M277,1025 L283.5,1037.4 L270.5,1037.4 Z" fill="none" stroke="#000" stroke-width="2.7" stroke-linejoin="miter" stroke-miterlimit="10"/>
<path d="M370.3,1020 L376.8,1032.4 L363.8,1032.4 Z" fill="none" stroke="#000" stroke-width="2.7" stroke-linejoin="miter" stroke-miterlimit="10"/>
<path d="M463.6,1013.3 L470.1,1025.7 L457.1,1025.7 Z" fill="none" stroke="#000" stroke-width="2.7" stroke-linejoin="miter" stroke-miterlimit="10"/>
<path d="M556.9,1006 L563.4,1018.4 L550.4,1018.4 Z" fill="none" stroke="#000" stroke-width="2.7" stroke-linejoin="miter" stroke-miterlimit="10"/>
<path d="M650.2,998.7 L656.7,1011.1 L643.7,1011.1 Z" fill="none" stroke="#000" stroke-width="2.7" stroke-linejoin="miter" stroke-miterlimit="10"/>
<polyline points="183.7,1039.7 277,1012.9 370.3,981.4 463.6,902.9 556.9,842.3 650.2,756.8" fill="none" stroke="#000" stroke-width="3" stroke-linejoin="miter"/>
<line x1="183.7" y1="1026" x2="183.7" y2="1053" stroke="#000" stroke-width="3" stroke-linecap="butt"/>
<line x1="177.7" y1="1026" x2="189.7" y2="1026" stroke="#000" stroke-width="3" stroke-linecap="butt"/>
<line x1="177.7" y1="1053" x2="189.7" y2="1053" stroke="#000" stroke-width="3" stroke-linecap="butt"/>
<line x1="277" y1="996.8" x2="277" y2="1029" stroke="#000" stroke-width="3" stroke-linecap="butt"/>
<line x1="271" y1="996.8" x2="283" y2="996.8" stroke="#000" stroke-width="3" stroke-linecap="butt"/>
<line x1="271" y1="1029" x2="283" y2="1029" stroke="#000" stroke-width="3" stroke-linecap="butt"/>
<line x1="370.3" y1="951.4" x2="370.3" y2="1009.7" stroke="#000" stroke-width="3" stroke-linecap="butt"/>
<line x1="364.3" y1="951.4" x2="376.3" y2="951.4" stroke="#000" stroke-width="3" stroke-linecap="butt"/>
<line x1="364.3" y1="1009.7" x2="376.3" y2="1009.7" stroke="#000" stroke-width="3" stroke-linecap="butt"/>
<line x1="463.6" y1="853" x2="463.6" y2="952.2" stroke="#000" stroke-width="3" stroke-linecap="butt"/>
<line x1="457.6" y1="853" x2="469.6" y2="853" stroke="#000" stroke-width="3" stroke-linecap="butt"/>
<line x1="457.6" y1="952.2" x2="469.6" y2="952.2" stroke="#000" stroke-width="3" stroke-linecap="butt"/>
<line x1="556.9" y1="792.1" x2="556.9" y2="892.4" stroke="#000" stroke-width="3" stroke-linecap="butt"/>
<line x1="550.9" y1="792.1" x2="562.9" y2="792.1" stroke="#000" stroke-width="3" stroke-linecap="butt"/>
<line x1="550.9" y1="892.4" x2="562.9" y2="892.4" stroke="#000" stroke-width="3" stroke-linecap="butt"/>
<line x1="650.2" y1="689.7" x2="650.2" y2="823.9" stroke="#000" stroke-width="3" stroke-linecap="butt"/>
<line x1="644.2" y1="689.7" x2="656.2" y2="689.7" stroke="#000" stroke-width="3" stroke-linecap="butt"/>
<line x1="644.2" y1="823.9" x2="656.2" y2="823.9" stroke="#000" stroke-width="3" stroke-linecap="butt"/>
<circle cx="183.7" cy="1039.7" r="7" fill="#000"/>
<circle cx="277" cy="1012.9" r="7" fill="#000"/>
<circle cx="370.3" cy="981.4" r="7" fill="#000"/>
<circle cx="463.6" cy="902.9" r="7" fill="#000"/>
<circle cx="556.9" cy="842.3" r="7" fill="#000"/>
<circle cx="650.2" cy="756.8" r="7" fill="#000"/>
<line x1="195.1" y1="690" x2="230.2" y2="690" stroke="#000" stroke-width="3" stroke-linecap="butt"/>
<circle cx="212.7" cy="690" r="7" fill="#000"/>
<text x="0" y="0" font-family='"Liberation Serif", serif' font-size="23.7" text-anchor="start" font-weight="normal" fill="#000" transform="translate(249.7,697.6) scale(0.945,1)" stroke="#fff" stroke-width="0.2">Control</text>
<line x1="195.1" y1="729.1" x2="230.2" y2="729.1" stroke="#000" stroke-width="3" stroke-linecap="butt"/>
<path d="M212.7,723.1 L219.2,735.5 L206.2,735.5 Z" fill="none" stroke="#000" stroke-width="2.7" stroke-linejoin="miter" stroke-miterlimit="10"/>
<text x="0" y="0" font-family='"Liberation Serif", serif' font-size="23.7" text-anchor="start" font-weight="normal" fill="#000" transform="translate(249.7,736.7) scale(0.945,1)" stroke="#fff" stroke-width="0.2">PCC 5</text>
<line x1="195.1" y1="765.3" x2="230.2" y2="765.3" stroke="#333" stroke-width="3" stroke-linecap="butt"/>
<path d="M205.9,758.3 L219.5,758.3 L212.7,772 Z" fill="#333"/>
<text x="0" y="0" font-family='"Liberation Serif", serif' font-size="23.7" text-anchor="start" font-weight="normal" fill="#000" transform="translate(249.7,772.9) scale(0.945,1)" stroke="#fff" stroke-width="0.2">PCC 10</text>
<line x1="195.1" y1="799.6" x2="230.2" y2="799.6" stroke="#666" stroke-width="3" stroke-linecap="butt"/>
<path d="M212.7,792.8 L219,799.6 L212.7,806.4 L206.4,799.6 Z" fill="none" stroke="#000" stroke-width="3" stroke-linejoin="miter"/>
<text x="0" y="0" font-family='"Liberation Serif", serif' font-size="23.7" text-anchor="start" font-weight="normal" fill="#000" transform="translate(249.7,807.2) scale(0.945,1)" stroke="#fff" stroke-width="0.2">Erl 100</text>
<line x1="195.1" y1="835.5" x2="230.2" y2="835.5" stroke="#808080" stroke-width="3" stroke-linecap="butt"/>
<path d="M212.7,828.7 L218.3,835.5 L212.7,842.3 L207.1,835.5 Z" fill="#808080"/>
<text x="0" y="0" font-family='"Liberation Serif", serif' font-size="23.7" text-anchor="start" font-weight="normal" fill="#000" transform="translate(249.7,843.1) scale(0.945,1)" stroke="#fff" stroke-width="0.2">Osi 10</text>
<line x1="195.1" y1="873.2" x2="230.2" y2="873.2" stroke="#a0a0a0" stroke-width="3" stroke-linecap="butt"/>
<line x1="206.4" y1="866.9" x2="219" y2="879.5" stroke="#a0a0a0" stroke-width="3.1" stroke-linecap="butt"/>
<line x1="206.4" y1="879.5" x2="219" y2="866.9" stroke="#a0a0a0" stroke-width="3.1" stroke-linecap="butt"/>
<text x="250.2" y="881" font-family='"Liberation Sans", sans-serif' font-size="22" text-anchor="start" font-weight="normal" fill="#000" stroke="#fff" stroke-width="0.3">Poz 2.5</text>
<line x1="145.6" y1="1273" x2="145.6" y2="1678.5" stroke="#000" stroke-width="3" stroke-linecap="butt"/>
<line x1="144.1" y1="1677" x2="750.4" y2="1677" stroke="#000" stroke-width="3" stroke-linecap="butt"/>
<line x1="135.8" y1="1274.6" x2="145.6" y2="1274.6" stroke="#000" stroke-width="3" stroke-linecap="butt"/>
<text x="0" y="0" font-family='"Liberation Serif", serif' font-size="24.3" text-anchor="end" font-weight="normal" fill="#000" transform="translate(132.4,1281.3) scale(0.915,1)" stroke="#fff" stroke-width="0.2">750</text>
<line x1="135.8" y1="1400.3" x2="145.6" y2="1400.3" stroke="#000" stroke-width="3" stroke-linecap="butt"/>
<text x="0" y="0" font-family='"Liberation Serif", serif' font-size="24.3" text-anchor="end" font-weight="normal" fill="#000" transform="translate(132.4,1407) scale(0.915,1)" stroke="#fff" stroke-width="0.2">500</text>
<line x1="135.8" y1="1526" x2="145.6" y2="1526" stroke="#000" stroke-width="3" stroke-linecap="butt"/>
<text x="0" y="0" font-family='"Liberation Serif", serif' font-size="24.3" text-anchor="end" font-weight="normal" fill="#000" transform="translate(132.4,1532.7) scale(0.915,1)" stroke="#fff" stroke-width="0.2">250</text>
<line x1="135.8" y1="1651.7" x2="145.6" y2="1651.7" stroke="#000" stroke-width="3" stroke-linecap="butt"/>
<text x="0" y="0" font-family='"Liberation Serif", serif' font-size="24.3" text-anchor="end" font-weight="normal" fill="#000" transform="translate(132.4,1658.4) scale(0.915,1)" stroke="#fff" stroke-width="0.2">0</text>
<line x1="176.5" y1="1677" x2="176.5" y2="1686" stroke="#000" stroke-width="3" stroke-linecap="butt"/>
<text x="0" y="0" font-family='"Liberation Serif", serif' font-size="24.3" text-anchor="middle" font-weight="normal" fill="#000" transform="translate(176.5,1710.5) scale(0.915,1)" stroke="#fff" stroke-width="0.2">0</text>
<line x1="271.9" y1="1677" x2="271.9" y2="1686" stroke="#000" stroke-width="3" stroke-linecap="butt"/>
<text x="0" y="0" font-family='"Liberation Serif", serif' font-size="24.3" text-anchor="middle" font-weight="normal" fill="#000" transform="translate(271.9,1710.5) scale(0.915,1)" stroke="#fff" stroke-width="0.2">3</text>
<line x1="367.3" y1="1677" x2="367.3" y2="1686" stroke="#000" stroke-width="3" stroke-linecap="butt"/>
<text x="0" y="0" font-family='"Liberation Serif", serif' font-size="24.3" text-anchor="middle" font-weight="normal" fill="#000" transform="translate(367.3,1710.5) scale(0.915,1)" stroke="#fff" stroke-width="0.2">6</text>
<line x1="462.7" y1="1677" x2="462.7" y2="1686" stroke="#000" stroke-width="3" stroke-linecap="butt"/>
<text x="0" y="0" font-family='"Liberation Serif", serif' font-size="24.3" text-anchor="middle" font-weight="normal" fill="#000" transform="translate(462.7,1710.5) scale(0.915,1)" stroke="#fff" stroke-width="0.2">9</text>
<line x1="558.1" y1="1677" x2="558.1" y2="1686" stroke="#000" stroke-width="3" stroke-linecap="butt"/>
<text x="0" y="0" font-family='"Liberation Serif", serif' font-size="24.3" text-anchor="middle" font-weight="normal" fill="#000" transform="translate(558.1,1710.5) scale(0.915,1)" stroke="#fff" stroke-width="0.2">12</text>
<line x1="653.5" y1="1677" x2="653.5" y2="1686" stroke="#000" stroke-width="3" stroke-linecap="butt"/>
<text x="0" y="0" font-family='"Liberation Serif", serif' font-size="24.3" text-anchor="middle" font-weight="normal" fill="#000" transform="translate(653.5,1710.5) scale(0.915,1)" stroke="#fff" stroke-width="0.2">15</text>
<line x1="748.9" y1="1677" x2="748.9" y2="1686" stroke="#000" stroke-width="3" stroke-linecap="butt"/>
<text x="0" y="0" font-family='"Liberation Serif", serif' font-size="24.3" text-anchor="middle" font-weight="normal" fill="#000" transform="translate(748.9,1710.5) scale(0.915,1)" stroke="#fff" stroke-width="0.2">18</text>
<text x="439" y="1776.8" font-family='"Liberation Sans", sans-serif' font-size="28.5" text-anchor="middle" font-weight="normal" fill="#000">Time (days)</text>
<text x="0" y="0" font-family='"Liberation Serif", serif' font-size="28.7" text-anchor="middle" transform="translate(77.9,1478) rotate(-90)">Mean Tumor Volume (mm<tspan dy="-12.5" font-size="19.5">3</tspan><tspan dy="12.5">)</tspan></text>
<polyline points="176.5,1566.4 271.9,1564 367.3,1571.8 462.7,1574.8 558.1,1581.8 653.5,1588.1" fill="none" stroke="#a0a0a0" stroke-width="3" stroke-linejoin="miter"/>
<line x1="176.5" y1="1543" x2="176.5" y2="1590" stroke="#a0a0a0" stroke-width="3" stroke-linecap="butt"/>
<line x1="170.5" y1="1543" x2="182.5" y2="1543" stroke="#a0a0a0" stroke-width="3" stroke-linecap="butt"/>
<line x1="170.5" y1="1590" x2="182.5" y2="1590" stroke="#a0a0a0" stroke-width="3" stroke-linecap="butt"/>
<line x1="271.9" y1="1542" x2="271.9" y2="1586.8" stroke="#a0a0a0" stroke-width="3" stroke-linecap="butt"/>
<line x1="265.9" y1="1542" x2="277.9" y2="1542" stroke="#a0a0a0" stroke-width="3" stroke-linecap="butt"/>
<line x1="265.9" y1="1586.8" x2="277.9" y2="1586.8" stroke="#a0a0a0" stroke-width="3" stroke-linecap="butt"/>
<line x1="367.3" y1="1552" x2="367.3" y2="1591.7" stroke="#a0a0a0" stroke-width="3" stroke-linecap="butt"/>
<line x1="361.3" y1="1552" x2="373.3" y2="1552" stroke="#a0a0a0" stroke-width="3" stroke-linecap="butt"/>
<line x1="361.3" y1="1591.7" x2="373.3" y2="1591.7" stroke="#a0a0a0" stroke-width="3" stroke-linecap="butt"/>
<line x1="462.7" y1="1551" x2="462.7" y2="1598.4" stroke="#a0a0a0" stroke-width="3" stroke-linecap="butt"/>
<line x1="456.7" y1="1551" x2="468.7" y2="1551" stroke="#a0a0a0" stroke-width="3" stroke-linecap="butt"/>
<line x1="456.7" y1="1598.4" x2="468.7" y2="1598.4" stroke="#a0a0a0" stroke-width="3" stroke-linecap="butt"/>
<line x1="558.1" y1="1561" x2="558.1" y2="1602.5" stroke="#a0a0a0" stroke-width="3" stroke-linecap="butt"/>
<line x1="552.1" y1="1561" x2="564.1" y2="1561" stroke="#a0a0a0" stroke-width="3" stroke-linecap="butt"/>
<line x1="552.1" y1="1602.5" x2="564.1" y2="1602.5" stroke="#a0a0a0" stroke-width="3" stroke-linecap="butt"/>
<line x1="653.5" y1="1570" x2="653.5" y2="1606" stroke="#a0a0a0" stroke-width="3" stroke-linecap="butt"/>
<line x1="647.5" y1="1570" x2="659.5" y2="1570" stroke="#a0a0a0" stroke-width="3" stroke-linecap="butt"/>
<line x1="647.5" y1="1606" x2="659.5" y2="1606" stroke="#a0a0a0" stroke-width="3" stroke-linecap="butt"/>
<line x1="170.2" y1="1560.1" x2="182.8" y2="1572.7" stroke="#a0a0a0" stroke-width="3.1" stroke-linecap="butt"/>
<line x1="170.2" y1="1572.7" x2="182.8" y2="1560.1" stroke="#a0a0a0" stroke-width="3.1" stroke-linecap="butt"/>
<line x1="265.6" y1="1557.7" x2="278.2" y2="1570.3" stroke="#a0a0a0" stroke-width="3.1" stroke-linecap="butt"/>
<line x1="265.6" y1="1570.3" x2="278.2" y2="1557.7" stroke="#a0a0a0" stroke-width="3.1" stroke-linecap="butt"/>
<line x1="361" y1="1565.5" x2="373.6" y2="1578.1" stroke="#a0a0a0" stroke-width="3.1" stroke-linecap="butt"/>
<line x1="361" y1="1578.1" x2="373.6" y2="1565.5" stroke="#a0a0a0" stroke-width="3.1" stroke-linecap="butt"/>
<line x1="456.4" y1="1568.5" x2="469" y2="1581.1" stroke="#a0a0a0" stroke-width="3.1" stroke-linecap="butt"/>
<line x1="456.4" y1="1581.1" x2="469" y2="1568.5" stroke="#a0a0a0" stroke-width="3.1" stroke-linecap="butt"/>
<line x1="551.8" y1="1575.5" x2="564.4" y2="1588.1" stroke="#a0a0a0" stroke-width="3.1" stroke-linecap="butt"/>
<line x1="551.8" y1="1588.1" x2="564.4" y2="1575.5" stroke="#a0a0a0" stroke-width="3.1" stroke-linecap="butt"/>
<line x1="647.2" y1="1581.8" x2="659.8" y2="1594.4" stroke="#a0a0a0" stroke-width="3.1" stroke-linecap="butt"/>
<line x1="647.2" y1="1594.4" x2="659.8" y2="1581.8" stroke="#a0a0a0" stroke-width="3.1" stroke-linecap="butt"/>
<polyline points="176.5,1566.4 271.9,1550.4 367.3,1516.7 462.7,1496 558.1,1481.4 653.5,1449.8" fill="none" stroke="#808080" stroke-width="3" stroke-linejoin="miter"/>
<line x1="176.5" y1="1545" x2="176.5" y2="1588" stroke="#808080" stroke-width="3" stroke-linecap="butt"/>
<line x1="170.5" y1="1545" x2="182.5" y2="1545" stroke="#808080" stroke-width="3" stroke-linecap="butt"/>
<line x1="170.5" y1="1588" x2="182.5" y2="1588" stroke="#808080" stroke-width="3" stroke-linecap="butt"/>
<line x1="271.9" y1="1520.4" x2="271.9" y2="1580.4" stroke="#808080" stroke-width="3" stroke-linecap="butt"/>
<line x1="265.9" y1="1520.4" x2="277.9" y2="1520.4" stroke="#808080" stroke-width="3" stroke-linecap="butt"/>
<line x1="265.9" y1="1580.4" x2="277.9" y2="1580.4" stroke="#808080" stroke-width="3" stroke-linecap="butt"/>
<line x1="367.3" y1="1495" x2="367.3" y2="1538" stroke="#808080" stroke-width="3" stroke-linecap="butt"/>
<line x1="361.3" y1="1495" x2="373.3" y2="1495" stroke="#808080" stroke-width="3" stroke-linecap="butt"/>
<line x1="361.3" y1="1538" x2="373.3" y2="1538" stroke="#808080" stroke-width="3" stroke-linecap="butt"/>
<line x1="462.7" y1="1460.9" x2="462.7" y2="1531" stroke="#808080" stroke-width="3" stroke-linecap="butt"/>
<line x1="456.7" y1="1460.9" x2="468.7" y2="1460.9" stroke="#808080" stroke-width="3" stroke-linecap="butt"/>
<line x1="456.7" y1="1531" x2="468.7" y2="1531" stroke="#808080" stroke-width="3" stroke-linecap="butt"/>
<line x1="558.1" y1="1451" x2="558.1" y2="1512" stroke="#808080" stroke-width="3" stroke-linecap="butt"/>
<line x1="552.1" y1="1451" x2="564.1" y2="1451" stroke="#808080" stroke-width="3" stroke-linecap="butt"/>
<line x1="552.1" y1="1512" x2="564.1" y2="1512" stroke="#808080" stroke-width="3" stroke-linecap="butt"/>
<line x1="653.5" y1="1398" x2="653.5" y2="1501.6" stroke="#808080" stroke-width="3" stroke-linecap="butt"/>
<line x1="647.5" y1="1398" x2="659.5" y2="1398" stroke="#808080" stroke-width="3" stroke-linecap="butt"/>
<line x1="647.5" y1="1501.6" x2="659.5" y2="1501.6" stroke="#808080" stroke-width="3" stroke-linecap="butt"/>
<path d="M176.5,1559.6 L182.1,1566.4 L176.5,1573.2 L170.9,1566.4 Z" fill="#808080"/>
<path d="M271.9,1543.6 L277.5,1550.4 L271.9,1557.2 L266.3,1550.4 Z" fill="#808080"/>
<path d="M367.3,1509.9 L372.9,1516.7 L367.3,1523.5 L361.7,1516.7 Z" fill="#808080"/>
<path d="M462.7,1489.2 L468.3,1496 L462.7,1502.8 L457.1,1496 Z" fill="#808080"/>
<path d="M558.1,1474.6 L563.7,1481.4 L558.1,1488.2 L552.5,1481.4 Z" fill="#808080"/>
<path d="M653.5,1443 L659.1,1449.8 L653.5,1456.6 L647.9,1449.8 Z" fill="#808080"/>
<polyline points="176.5,1566.4 271.9,1564.3 367.3,1576.7 462.7,1577.6 558.1,1588.1 653.5,1597" fill="none" stroke="#333" stroke-width="3" stroke-linejoin="miter"/>
<line x1="176.5" y1="1541.8" x2="176.5" y2="1593.2" stroke="#333" stroke-width="3" stroke-linecap="butt"/>
<line x1="170.5" y1="1541.8" x2="182.5" y2="1541.8" stroke="#333" stroke-width="3" stroke-linecap="butt"/>
<line x1="170.5" y1="1593.2" x2="182.5" y2="1593.2" stroke="#333" stroke-width="3" stroke-linecap="butt"/>
<line x1="271.9" y1="1540" x2="271.9" y2="1589.6" stroke="#333" stroke-width="3" stroke-linecap="butt"/>
<line x1="265.9" y1="1540" x2="277.9" y2="1540" stroke="#333" stroke-width="3" stroke-linecap="butt"/>
<line x1="265.9" y1="1589.6" x2="277.9" y2="1589.6" stroke="#333" stroke-width="3" stroke-linecap="butt"/>
<line x1="367.3" y1="1556" x2="367.3" y2="1596.4" stroke="#333" stroke-width="3" stroke-linecap="butt"/>
<line x1="361.3" y1="1556" x2="373.3" y2="1556" stroke="#333" stroke-width="3" stroke-linecap="butt"/>
<line x1="361.3" y1="1596.4" x2="373.3" y2="1596.4" stroke="#333" stroke-width="3" stroke-linecap="butt"/>
<line x1="462.7" y1="1551" x2="462.7" y2="1603.9" stroke="#333" stroke-width="3" stroke-linecap="butt"/>
<line x1="456.7" y1="1551" x2="468.7" y2="1551" stroke="#333" stroke-width="3" stroke-linecap="butt"/>
<line x1="456.7" y1="1603.9" x2="468.7" y2="1603.9" stroke="#333" stroke-width="3" stroke-linecap="butt"/>
<line x1="558.1" y1="1565.4" x2="558.1" y2="1610.8" stroke="#333" stroke-width="3" stroke-linecap="butt"/>
<line x1="552.1" y1="1565.4" x2="564.1" y2="1565.4" stroke="#333" stroke-width="3" stroke-linecap="butt"/>
<line x1="552.1" y1="1610.8" x2="564.1" y2="1610.8" stroke="#333" stroke-width="3" stroke-linecap="butt"/>
<line x1="653.5" y1="1573.5" x2="653.5" y2="1621.9" stroke="#333" stroke-width="3" stroke-linecap="butt"/>
<line x1="647.5" y1="1573.5" x2="659.5" y2="1573.5" stroke="#333" stroke-width="3" stroke-linecap="butt"/>
<line x1="647.5" y1="1621.9" x2="659.5" y2="1621.9" stroke="#333" stroke-width="3" stroke-linecap="butt"/>
<path d="M169.7,1559.4 L183.3,1559.4 L176.5,1573.1 Z" fill="#333"/>
<path d="M265.1,1557.3 L278.7,1557.3 L271.9,1571 Z" fill="#333"/>
<path d="M360.5,1569.7 L374.1,1569.7 L367.3,1583.4 Z" fill="#333"/>
<path d="M455.9,1570.6 L469.5,1570.6 L462.7,1584.3 Z" fill="#333"/>
<path d="M551.3,1581.1 L564.9,1581.1 L558.1,1594.8 Z" fill="#333"/>
<path d="M646.7,1590 L660.3,1590 L653.5,1603.7 Z" fill="#333"/>
<polyline points="176.5,1566.4 271.9,1555.3 367.3,1545.6 462.7,1547.2 558.1,1537 653.5,1527.8" fill="none" stroke="#000" stroke-width="3" stroke-linejoin="miter"/>
<line x1="176.5" y1="1544" x2="176.5" y2="1589" stroke="#000" stroke-width="3" stroke-linecap="butt"/>
<line x1="170.5" y1="1544" x2="182.5" y2="1544" stroke="#000" stroke-width="3" stroke-linecap="butt"/>
<line x1="170.5" y1="1589" x2="182.5" y2="1589" stroke="#000" stroke-width="3" stroke-linecap="butt"/>
<line x1="271.9" y1="1536" x2="271.9" y2="1575" stroke="#000" stroke-width="3" stroke-linecap="butt"/>
<line x1="265.9" y1="1536" x2="277.9" y2="1536" stroke="#000" stroke-width="3" stroke-linecap="butt"/>
<line x1="265.9" y1="1575" x2="277.9" y2="1575" stroke="#000" stroke-width="3" stroke-linecap="butt"/>
<line x1="367.3" y1="1521.4" x2="367.3" y2="1569.8" stroke="#000" stroke-width="3" stroke-linecap="butt"/>
<line x1="361.3" y1="1521.4" x2="373.3" y2="1521.4" stroke="#000" stroke-width="3" stroke-linecap="butt"/>
<line x1="361.3" y1="1569.8" x2="373.3" y2="1569.8" stroke="#000" stroke-width="3" stroke-linecap="butt"/>
<line x1="462.7" y1="1527.3" x2="462.7" y2="1567.1" stroke="#000" stroke-width="3" stroke-linecap="butt"/>
<line x1="456.7" y1="1527.3" x2="468.7" y2="1527.3" stroke="#000" stroke-width="3" stroke-linecap="butt"/>
<line x1="456.7" y1="1567.1" x2="468.7" y2="1567.1" stroke="#000" stroke-width="3" stroke-linecap="butt"/>
<line x1="558.1" y1="1507.6" x2="558.1" y2="1566.4" stroke="#000" stroke-width="3" stroke-linecap="butt"/>
<line x1="552.1" y1="1507.6" x2="564.1" y2="1507.6" stroke="#000" stroke-width="3" stroke-linecap="butt"/>
<line x1="552.1" y1="1566.4" x2="564.1" y2="1566.4" stroke="#000" stroke-width="3" stroke-linecap="butt"/>
<line x1="653.5" y1="1490" x2="653.5" y2="1565.7" stroke="#000" stroke-width="3" stroke-linecap="butt"/>
<line x1="647.5" y1="1490" x2="659.5" y2="1490" stroke="#000" stroke-width="3" stroke-linecap="butt"/>
<line x1="647.5" y1="1565.7" x2="659.5" y2="1565.7" stroke="#000" stroke-width="3" stroke-linecap="butt"/>
<path d="M176.5,1560.4 L183,1572.8 L170,1572.8 Z" fill="none" stroke="#000" stroke-width="2.7" stroke-linejoin="miter" stroke-miterlimit="10"/>
<path d="M271.9,1549.3 L278.4,1561.7 L265.4,1561.7 Z" fill="none" stroke="#000" stroke-width="2.7" stroke-linejoin="miter" stroke-miterlimit="10"/>
<path d="M367.3,1539.6 L373.8,1552 L360.8,1552 Z" fill="none" stroke="#000" stroke-width="2.7" stroke-linejoin="miter" stroke-miterlimit="10"/>
<path d="M462.7,1541.2 L469.2,1553.6 L456.2,1553.6 Z" fill="none" stroke="#000" stroke-width="2.7" stroke-linejoin="miter" stroke-miterlimit="10"/>
<path d="M558.1,1531 L564.6,1543.4 L551.6,1543.4 Z" fill="none" stroke="#000" stroke-width="2.7" stroke-linejoin="miter" stroke-miterlimit="10"/>
<path d="M653.5,1521.8 L660,1534.2 L647,1534.2 Z" fill="none" stroke="#000" stroke-width="2.7" stroke-linejoin="miter" stroke-miterlimit="10"/>
<polyline points="176.5,1566.4 271.9,1534.5 367.3,1493.8 462.7,1471.1 558.1,1445.4 653.5,1400.6" fill="none" stroke="#000" stroke-width="3" stroke-linejoin="miter"/>
<line x1="176.5" y1="1541.8" x2="176.5" y2="1591" stroke="#000" stroke-width="3" stroke-linecap="butt"/>
<line x1="170.5" y1="1541.8" x2="182.5" y2="1541.8" stroke="#000" stroke-width="3" stroke-linecap="butt"/>
<line x1="170.5" y1="1591" x2="182.5" y2="1591" stroke="#000" stroke-width="3" stroke-linecap="butt"/>
<line x1="271.9" y1="1481.7" x2="271.9" y2="1587.3" stroke="#000" stroke-width="3" stroke-linecap="butt"/>
<line x1="265.9" y1="1481.7" x2="277.9" y2="1481.7" stroke="#000" stroke-width="3" stroke-linecap="butt"/>
<line x1="265.9" y1="1587.3" x2="277.9" y2="1587.3" stroke="#000" stroke-width="3" stroke-linecap="butt"/>
<line x1="367.3" y1="1431.6" x2="367.3" y2="1556" stroke="#000" stroke-width="3" stroke-linecap="butt"/>
<line x1="361.3" y1="1431.6" x2="373.3" y2="1431.6" stroke="#000" stroke-width="3" stroke-linecap="butt"/>
<line x1="361.3" y1="1556" x2="373.3" y2="1556" stroke="#000" stroke-width="3" stroke-linecap="butt"/>
<line x1="462.7" y1="1397.3" x2="462.7" y2="1545" stroke="#000" stroke-width="3" stroke-linecap="butt"/>
<line x1="456.7" y1="1397.3" x2="468.7" y2="1397.3" stroke="#000" stroke-width="3" stroke-linecap="butt"/>
<line x1="456.7" y1="1545" x2="468.7" y2="1545" stroke="#000" stroke-width="3" stroke-linecap="butt"/>
<line x1="558.1" y1="1366.9" x2="558.1" y2="1524" stroke="#000" stroke-width="3" stroke-linecap="butt"/>
<line x1="552.1" y1="1366.9" x2="564.1" y2="1366.9" stroke="#000" stroke-width="3" stroke-linecap="butt"/>
<line x1="552.1" y1="1524" x2="564.1" y2="1524" stroke="#000" stroke-width="3" stroke-linecap="butt"/>
<line x1="653.5" y1="1308.5" x2="653.5" y2="1492.7" stroke="#000" stroke-width="3" stroke-linecap="butt"/>
<line x1="647.5" y1="1308.5" x2="659.5" y2="1308.5" stroke="#000" stroke-width="3" stroke-linecap="butt"/>
<line x1="647.5" y1="1492.7" x2="659.5" y2="1492.7" stroke="#000" stroke-width="3" stroke-linecap="butt"/>
<circle cx="176.5" cy="1566.4" r="7" fill="#000"/>
<circle cx="271.9" cy="1534.5" r="7" fill="#000"/>
<circle cx="367.3" cy="1493.8" r="7" fill="#000"/>
<circle cx="462.7" cy="1471.1" r="7" fill="#000"/>
<circle cx="558.1" cy="1445.4" r="7" fill="#000"/>
<circle cx="653.5" cy="1400.6" r="7" fill="#000"/>
<line x1="188.7" y1="1284" x2="224.3" y2="1284" stroke="#000" stroke-width="3" stroke-linecap="butt"/>
<circle cx="206.1" cy="1284" r="7" fill="#000"/>
<text x="0" y="0" font-family='"Liberation Serif", serif' font-size="24.766499999999997" text-anchor="start" font-weight="normal" fill="#000" transform="translate(243.1,1291.94) scale(0.945,1)" stroke="#fff" stroke-width="0.2">Control</text>
<line x1="188.7" y1="1324.2" x2="224.3" y2="1324.2" stroke="#000" stroke-width="3" stroke-linecap="butt"/>
<path d="M206.1,1318.2 L212.6,1330.6 L199.6,1330.6 Z" fill="none" stroke="#000" stroke-width="2.7" stroke-linejoin="miter" stroke-miterlimit="10"/>
<text x="0" y="0" font-family='"Liberation Serif", serif' font-size="24.766499999999997" text-anchor="start" font-weight="normal" fill="#000" transform="translate(243.1,1332.14) scale(0.945,1)" stroke="#fff" stroke-width="0.2">PCC 2.5</text>
<line x1="188.7" y1="1359.8" x2="224.3" y2="1359.8" stroke="#333" stroke-width="3" stroke-linecap="butt"/>
<path d="M199.3,1352.8 L212.9,1352.8 L206.1,1366.5 Z" fill="#333"/>
<text x="0" y="0" font-family='"Liberation Serif", serif' font-size="24.766499999999997" text-anchor="start" font-weight="normal" fill="#000" transform="translate(243.1,1367.74) scale(0.945,1)" stroke="#fff" stroke-width="0.2">PCC 5</text>
<line x1="188.7" y1="1394.7" x2="224.3" y2="1394.7" stroke="#808080" stroke-width="3" stroke-linecap="butt"/>
<path d="M206.1,1387.9 L211.7,1394.7 L206.1,1401.5 L200.5,1394.7 Z" fill="#808080"/>
<text x="0" y="0" font-family='"Liberation Serif", serif' font-size="24.766499999999997" text-anchor="start" font-weight="normal" fill="#000" transform="translate(243.1,1402.64) scale(0.945,1)" stroke="#fff" stroke-width="0.2">Osi 5</text>
<line x1="188.7" y1="1433" x2="224.3" y2="1433" stroke="#a0a0a0" stroke-width="3" stroke-linecap="butt"/>
<line x1="199.8" y1="1426.7" x2="212.4" y2="1439.3" stroke="#a0a0a0" stroke-width="3.1" stroke-linecap="butt"/>
<line x1="199.8" y1="1439.3" x2="212.4" y2="1426.7" stroke="#a0a0a0" stroke-width="3.1" stroke-linecap="butt"/>
<text x="243.6" y="1441.15" font-family='"Liberation Sans", sans-serif' font-size="22.99" text-anchor="start" font-weight="normal" fill="#000" stroke="#fff" stroke-width="0.3">Poz 2.5</text>
<line x1="913" y1="80.2" x2="913" y2="466" stroke="#000" stroke-width="3.3" stroke-linecap="butt"/>
<line x1="902.5" y1="464.5" x2="1490" y2="464.5" stroke="#000" stroke-width="3.6" stroke-linecap="butt"/>
<line x1="902.5" y1="82" x2="913" y2="82" stroke="#000" stroke-width="3.4" stroke-linecap="butt"/>
<text x="0" y="0" font-family='"Liberation Serif", serif' font-size="25.4" text-anchor="end" font-weight="normal" fill="#000" transform="translate(898.5,88.3) scale(0.95,1)" stroke="#fff" stroke-width="0.2">0.4</text>
<line x1="902.5" y1="177.6" x2="913" y2="177.6" stroke="#000" stroke-width="3.4" stroke-linecap="butt"/>
<text x="0" y="0" font-family='"Liberation Serif", serif' font-size="25.4" text-anchor="end" font-weight="normal" fill="#000" transform="translate(898.5,183.9) scale(0.95,1)" stroke="#fff" stroke-width="0.2">0.3</text>
<line x1="902.5" y1="273.2" x2="913" y2="273.2" stroke="#000" stroke-width="3.4" stroke-linecap="butt"/>
<text x="0" y="0" font-family='"Liberation Serif", serif' font-size="25.4" text-anchor="end" font-weight="normal" fill="#000" transform="translate(898.5,279.5) scale(0.95,1)" stroke="#fff" stroke-width="0.2">0.2</text>
<line x1="902.5" y1="368.8" x2="913" y2="368.8" stroke="#000" stroke-width="3.4" stroke-linecap="butt"/>
<text x="0" y="0" font-family='"Liberation Serif", serif' font-size="25.4" text-anchor="end" font-weight="normal" fill="#000" transform="translate(898.5,375.1) scale(0.95,1)" stroke="#fff" stroke-width="0.2">0.1</text>
<line x1="902.5" y1="464.5" x2="913" y2="464.5" stroke="#000" stroke-width="3.4" stroke-linecap="butt"/>
<text x="0" y="0" font-family='"Liberation Serif", serif' font-size="25.4" text-anchor="end" font-weight="normal" fill="#000" transform="translate(898.5,470.8) scale(0.95,1)" stroke="#fff" stroke-width="0.2">0.0</text>
<line x1="973.6" y1="152.6" x2="973.6" y2="172.6" stroke="#000" stroke-width="3.3" stroke-linecap="butt"/>
<line x1="959.1" y1="152.6" x2="988.1" y2="152.6" stroke="#000" stroke-width="3.6" stroke-linecap="butt"/>
<rect x="940.85" y="170.6" width="65.5" height="293.9" fill="#000"/>
<line x1="973.6" y1="464.5" x2="973.6" y2="475.5" stroke="#000" stroke-width="3.6" stroke-linecap="butt"/>
<text x="0" y="0" font-family='"Liberation Serif", serif' font-size="24.8" text-anchor="end" font-weight="normal" fill="#000" transform="translate(979.2,495.7) rotate(-45) scale(0.96,1)" stroke="#fff" stroke-width="0.2">control</text>
<line x1="1064.6" y1="382.2" x2="1064.6" y2="409.1" stroke="#000" stroke-width="3.3" stroke-linecap="butt"/>
<line x1="1050.1" y1="382.2" x2="1079.1" y2="382.2" stroke="#000" stroke-width="3.6" stroke-linecap="butt"/>
<rect x="1031.85" y="407.1" width="65.5" height="57.4" fill="#000"/>
<line x1="1064.6" y1="464.5" x2="1064.6" y2="475.5" stroke="#000" stroke-width="3.6" stroke-linecap="butt"/>
<g transform="translate(1050.25,365.7) scale(1.0)" fill="#000"><path d="M0,0.6 C-0.3,-1 -1.15,-3.4 -1.15,-4.55 A1.15,1.15 0 0 1 1.15,-4.55 C1.15,-3.4 0.3,-1 0,0.6 Z"/><path d="M0,0.6 C-0.3,-1 -1.15,-3.4 -1.15,-4.55 A1.15,1.15 0 0 1 1.15,-4.55 C1.15,-3.4 0.3,-1 0,0.6 Z" transform="rotate(180)"/><path d="M0,0.6 C-0.3,-1 -1.15,-2.4 -1.15,-3.55 A1.15,1.15 0 0 1 1.15,-3.55 C1.15,-2.4 0.3,-1 0,0.6 Z" transform="rotate(59)"/><path d="M0,0.6 C-0.3,-1 -1.15,-2.4 -1.15,-3.55 A1.15,1.15 0 0 1 1.15,-3.55 C1.15,-2.4 0.3,-1 0,0.6 Z" transform="rotate(121)"/><path d="M0,0.6 C-0.3,-1 -1.15,-2.4 -1.15,-3.55 A1.15,1.15 0 0 1 1.15,-3.55 C1.15,-2.4 0.3,-1 0,0.6 Z" transform="rotate(239)"/><path d="M0,0.6 C-0.3,-1 -1.15,-2.4 -1.15,-3.55 A1.15,1.15 0 0 1 1.15,-3.55 C1.15,-2.4 0.3,-1 0,0.6 Z" transform="rotate(301)"/><circle r="1.3"/></g>
<g transform="translate(1063.9,365.7) scale(1.0)" fill="#000"><path d="M0,0.6 C-0.3,-1 -1.15,-3.4 -1.15,-4.55 A1.15,1.15 0 0 1 1.15,-4.55 C1.15,-3.4 0.3,-1 0,0.6 Z"/><path d="M0,0.6 C-0.3,-1 -1.15,-3.4 -1.15,-4.55 A1.15,1.15 0 0 1 1.15,-4.55 C1.15,-3.4 0.3,-1 0,0.6 Z" transform="rotate(180)"/><path d="M0,0.6 C-0.3,-1 -1.15,-2.4 -1.15,-3.55 A1.15,1.15 0 0 1 1.15,-3.55 C1.15,-2.4 0.3,-1 0,0.6 Z" transform="rotate(59)"/><path d="M0,0.6 C-0.3,-1 -1.15,-2.4 -1.15,-3.55 A1.15,1.15 0 0 1 1.15,-3.55 C1.15,-2.4 0.3,-1 0,0.6 Z" transform="rotate(121)"/><path d="M0,0.6 C-0.3,-1 -1.15,-2.4 -1.15,-3.55 A1.15,1.15 0 0 1 1.15,-3.55 C1.15,-2.4 0.3,-1 0,0.6 Z" transform="rotate(239)"/><path d="M0,0.6 C-0.3,-1 -1.15,-2.4 -1.15,-3.55 A1.15,1.15 0 0 1 1.15,-3.55 C1.15,-2.4 0.3,-1 0,0.6 Z" transform="rotate(301)"/><circle r="1.3"/></g>
<g transform="translate(1077.55,365.7) scale(1.0)" fill="#000"><path d="M0,0.6 C-0.3,-1 -1.15,-3.4 -1.15,-4.55 A1.15,1.15 0 0 1 1.15,-4.55 C1.15,-3.4 0.3,-1 0,0.6 Z"/><path d="M0,0.6 C-0.3,-1 -1.15,-3.4 -1.15,-4.55 A1.15,1.15 0 0 1 1.15,-4.55 C1.15,-3.4 0.3,-1 0,0.6 Z" transform="rotate(180)"/><path d="M0,0.6 C-0.3,-1 -1.15,-2.4 -1.15,-3.55 A1.15,1.15 0 0 1 1.15,-3.55 C1.15,-2.4 0.3,-1 0,0.6 Z" transform="rotate(59)"/><path d="M0,0.6 C-0.3,-1 -1.15,-2.4 -1.15,-3.55 A1.15,1.15 0 0 1 1.15,-3.55 C1.15,-2.4 0.3,-1 0,0.6 Z" transform="rotate(121)"/><path d="M0,0.6 C-0.3,-1 -1.15,-2.4 -1.15,-3.55 A1.15,1.15 0 0 1 1.15,-3.55 C1.15,-2.4 0.3,-1 0,0.6 Z" transform="rotate(239)"/><path d="M0,0.6 C-0.3,-1 -1.15,-2.4 -1.15,-3.55 A1.15,1.15 0 0 1 1.15,-3.55 C1.15,-2.4 0.3,-1 0,0.6 Z" transform="rotate(301)"/><circle r="1.3"/></g>
<text x="0" y="0" font-family='"Liberation Serif", serif' font-size="24.8" text-anchor="end" font-weight="normal" fill="#000" transform="translate(1070.2,495.7) rotate(-45) scale(0.96,1)" stroke="#fff" stroke-width="0.2">PCC 1</text>
<line x1="1155.6" y1="428.8" x2="1155.6" y2="436.5" stroke="#333" stroke-width="3.3" stroke-linecap="butt"/>
<line x1="1141.1" y1="428.8" x2="1170.1" y2="428.8" stroke="#333" stroke-width="3.6" stroke-linecap="butt"/>
<rect x="1122.85" y="434.5" width="65.5" height="30" fill="#333"/>
<line x1="1155.6" y1="464.5" x2="1155.6" y2="475.5" stroke="#000" stroke-width="3.6" stroke-linecap="butt"/>
<g transform="translate(1142.25,411.8) scale(1.0)" fill="#000"><path d="M0,0.6 C-0.3,-1 -1.15,-3.4 -1.15,-4.55 A1.15,1.15 0 0 1 1.15,-4.55 C1.15,-3.4 0.3,-1 0,0.6 Z"/><path d="M0,0.6 C-0.3,-1 -1.15,-3.4 -1.15,-4.55 A1.15,1.15 0 0 1 1.15,-4.55 C1.15,-3.4 0.3,-1 0,0.6 Z" transform="rotate(180)"/><path d="M0,0.6 C-0.3,-1 -1.15,-2.4 -1.15,-3.55 A1.15,1.15 0 0 1 1.15,-3.55 C1.15,-2.4 0.3,-1 0,0.6 Z" transform="rotate(59)"/><path d="M0,0.6 C-0.3,-1 -1.15,-2.4 -1.15,-3.55 A1.15,1.15 0 0 1 1.15,-3.55 C1.15,-2.4 0.3,-1 0,0.6 Z" transform="rotate(121)"/><path d="M0,0.6 C-0.3,-1 -1.15,-2.4 -1.15,-3.55 A1.15,1.15 0 0 1 1.15,-3.55 C1.15,-2.4 0.3,-1 0,0.6 Z" transform="rotate(239)"/><path d="M0,0.6 C-0.3,-1 -1.15,-2.4 -1.15,-3.55 A1.15,1.15 0 0 1 1.15,-3.55 C1.15,-2.4 0.3,-1 0,0.6 Z" transform="rotate(301)"/><circle r="1.3"/></g>
<g transform="translate(1155.9,411.8) scale(1.0)" fill="#000"><path d="M0,0.6 C-0.3,-1 -1.15,-3.4 -1.15,-4.55 A1.15,1.15 0 0 1 1.15,-4.55 C1.15,-3.4 0.3,-1 0,0.6 Z"/><path d="M0,0.6 C-0.3,-1 -1.15,-3.4 -1.15,-4.55 A1.15,1.15 0 0 1 1.15,-4.55 C1.15,-3.4 0.3,-1 0,0.6 Z" transform="rotate(180)"/><path d="M0,0.6 C-0.3,-1 -1.15,-2.4 -1.15,-3.55 A1.15,1.15 0 0 1 1.15,-3.55 C1.15,-2.4 0.3,-1 0,0.6 Z" transform="rotate(59)"/><path d="M0,0.6 C-0.3,-1 -1.15,-2.4 -1.15,-3.55 A1.15,1.15 0 0 1 1.15,-3.55 C1.15,-2.4 0.3,-1 0,0.6 Z" transform="rotate(121)"/><path d="M0,0.6 C-0.3,-1 -1.15,-2.4 -1.15,-3.55 A1.15,1.15 0 0 1 1.15,-3.55 C1.15,-2.4 0.3,-1 0,0.6 Z" transform="rotate(239)"/><path d="M0,0.6 C-0.3,-1 -1.15,-2.4 -1.15,-3.55 A1.15,1.15 0 0 1 1.15,-3.55 C1.15,-2.4 0.3,-1 0,0.6 Z" transform="rotate(301)"/><circle r="1.3"/></g>
<g transform="translate(1169.55,411.8) scale(1.0)" fill="#000"><path d="M0,0.6 C-0.3,-1 -1.15,-3.4 -1.15,-4.55 A1.15,1.15 0 0 1 1.15,-4.55 C1.15,-3.4 0.3,-1 0,0.6 Z"/><path d="M0,0.6 C-0.3,-1 -1.15,-3.4 -1.15,-4.55 A1.15,1.15 0 0 1 1.15,-4.55 C1.15,-3.4 0.3,-1 0,0.6 Z" transform="rotate(180)"/><path d="M0,0.6 C-0.3,-1 -1.15,-2.4 -1.15,-3.55 A1.15,1.15 0 0 1 1.15,-3.55 C1.15,-2.4 0.3,-1 0,0.6 Z" transform="rotate(59)"/><path d="M0,0.6 C-0.3,-1 -1.15,-2.4 -1.15,-3.55 A1.15,1.15 0 0 1 1.15,-3.55 C1.15,-2.4 0.3,-1 0,0.6 Z" transform="rotate(121)"/><path d="M0,0.6 C-0.3,-1 -1.15,-2.4 -1.15,-3.55 A1.15,1.15 0 0 1 1.15,-3.55 C1.15,-2.4 0.3,-1 0,0.6 Z" transform="rotate(239)"/><path d="M0,0.6 C-0.3,-1 -1.15,-2.4 -1.15,-3.55 A1.15,1.15 0 0 1 1.15,-3.55 C1.15,-2.4 0.3,-1 0,0.6 Z" transform="rotate(301)"/><circle r="1.3"/></g>
<text x="0" y="0" font-family='"Liberation Serif", serif' font-size="24.8" text-anchor="end" font-weight="normal" fill="#000" transform="translate(1161.2,495.7) rotate(-45) scale(0.96,1)" stroke="#fff" stroke-width="0.2">PCC 2.5</text>
<line x1="1246.7" y1="437.6" x2="1246.7" y2="443.6" stroke="#5f5f5f" stroke-width="3.3" stroke-linecap="butt"/>
<line x1="1232.2" y1="437.6" x2="1261.2" y2="437.6" stroke="#5f5f5f" stroke-width="3.6" stroke-linecap="butt"/>
<rect x="1213.95" y="441.6" width="65.5" height="22.9" fill="#5f5f5f"/>
<line x1="1246.7" y1="464.5" x2="1246.7" y2="475.5" stroke="#000" stroke-width="3.6" stroke-linecap="butt"/>
<g transform="translate(1233.05,419.8) scale(1.0)" fill="#000"><path d="M0,0.6 C-0.3,-1 -1.15,-3.4 -1.15,-4.55 A1.15,1.15 0 0 1 1.15,-4.55 C1.15,-3.4 0.3,-1 0,0.6 Z"/><path d="M0,0.6 C-0.3,-1 -1.15,-3.4 -1.15,-4.55 A1.15,1.15 0 0 1 1.15,-4.55 C1.15,-3.4 0.3,-1 0,0.6 Z" transform="rotate(180)"/><path d="M0,0.6 C-0.3,-1 -1.15,-2.4 -1.15,-3.55 A1.15,1.15 0 0 1 1.15,-3.55 C1.15,-2.4 0.3,-1 0,0.6 Z" transform="rotate(59)"/><path d="M0,0.6 C-0.3,-1 -1.15,-2.4 -1.15,-3.55 A1.15,1.15 0 0 1 1.15,-3.55 C1.15,-2.4 0.3,-1 0,0.6 Z" transform="rotate(121)"/><path d="M0,0.6 C-0.3,-1 -1.15,-2.4 -1.15,-3.55 A1.15,1.15 0 0 1 1.15,-3.55 C1.15,-2.4 0.3,-1 0,0.6 Z" transform="rotate(239)"/><path d="M0,0.6 C-0.3,-1 -1.15,-2.4 -1.15,-3.55 A1.15,1.15 0 0 1 1.15,-3.55 C1.15,-2.4 0.3,-1 0,0.6 Z" transform="rotate(301)"/><circle r="1.3"/></g>
<g transform="translate(1246.7,419.8) scale(1.0)" fill="#000"><path d="M0,0.6 C-0.3,-1 -1.15,-3.4 -1.15,-4.55 A1.15,1.15 0 0 1 1.15,-4.55 C1.15,-3.4 0.3,-1 0,0.6 Z"/><path d="M0,0.6 C-0.3,-1 -1.15,-3.4 -1.15,-4.55 A1.15,1.15 0 0 1 1.15,-4.55 C1.15,-3.4 0.3,-1 0,0.6 Z" transform="rotate(180)"/><path d="M0,0.6 C-0.3,-1 -1.15,-2.4 -1.15,-3.55 A1.15,1.15 0 0 1 1.15,-3.55 C1.15,-2.4 0.3,-1 0,0.6 Z" transform="rotate(59)"/><path d="M0,0.6 C-0.3,-1 -1.15,-2.4 -1.15,-3.55 A1.15,1.15 0 0 1 1.15,-3.55 C1.15,-2.4 0.3,-1 0,0.6 Z" transform="rotate(121)"/><path d="M0,0.6 C-0.3,-1 -1.15,-2.4 -1.15,-3.55 A1.15,1.15 0 0 1 1.15,-3.55 C1.15,-2.4 0.3,-1 0,0.6 Z" transform="rotate(239)"/><path d="M0,0.6 C-0.3,-1 -1.15,-2.4 -1.15,-3.55 A1.15,1.15 0 0 1 1.15,-3.55 C1.15,-2.4 0.3,-1 0,0.6 Z" transform="rotate(301)"/><circle r="1.3"/></g>
<g transform="translate(1260.35,419.8) scale(1.0)" fill="#000"><path d="M0,0.6 C-0.3,-1 -1.15,-3.4 -1.15,-4.55 A1.15,1.15 0 0 1 1.15,-4.55 C1.15,-3.4 0.3,-1 0,0.6 Z"/><path d="M0,0.6 C-0.3,-1 -1.15,-3.4 -1.15,-4.55 A1.15,1.15 0 0 1 1.15,-4.55 C1.15,-3.4 0.3,-1 0,0.6 Z" transform="rotate(180)"/><path d="M0,0.6 C-0.3,-1 -1.15,-2.4 -1.15,-3.55 A1.15,1.15 0 0 1 1.15,-3.55 C1.15,-2.4 0.3,-1 0,0.6 Z" transform="rotate(59)"/><path d="M0,0.6 C-0.3,-1 -1.15,-2.4 -1.15,-3.55 A1.15,1.15 0 0 1 1.15,-3.55 C1.15,-2.4 0.3,-1 0,0.6 Z" transform="rotate(121)"/><path d="M0,0.6 C-0.3,-1 -1.15,-2.4 -1.15,-3.55 A1.15,1.15 0 0 1 1.15,-3.55 C1.15,-2.4 0.3,-1 0,0.6 Z" transform="rotate(239)"/><path d="M0,0.6 C-0.3,-1 -1.15,-2.4 -1.15,-3.55 A1.15,1.15 0 0 1 1.15,-3.55 C1.15,-2.4 0.3,-1 0,0.6 Z" transform="rotate(301)"/><circle r="1.3"/></g>
<text x="0" y="0" font-family='"Liberation Serif", serif' font-size="24.8" text-anchor="end" font-weight="normal" fill="#000" transform="translate(1252.3,495.7) rotate(-45) scale(0.96,1)" stroke="#fff" stroke-width="0.2">Erl 100</text>
<line x1="1337.8" y1="434.2" x2="1337.8" y2="437.8" stroke="#808080" stroke-width="3.3" stroke-linecap="butt"/>
<line x1="1323.3" y1="434.2" x2="1352.3" y2="434.2" stroke="#808080" stroke-width="3.6" stroke-linecap="butt"/>
<rect x="1305.05" y="435.8" width="65.5" height="28.7" fill="#808080"/>
<line x1="1337.8" y1="464.5" x2="1337.8" y2="475.5" stroke="#000" stroke-width="3.6" stroke-linecap="butt"/>
<g transform="translate(1324.15,421) scale(1.0)" fill="#000"><path d="M0,0.6 C-0.3,-1 -1.15,-3.4 -1.15,-4.55 A1.15,1.15 0 0 1 1.15,-4.55 C1.15,-3.4 0.3,-1 0,0.6 Z"/><path d="M0,0.6 C-0.3,-1 -1.15,-3.4 -1.15,-4.55 A1.15,1.15 0 0 1 1.15,-4.55 C1.15,-3.4 0.3,-1 0,0.6 Z" transform="rotate(180)"/><path d="M0,0.6 C-0.3,-1 -1.15,-2.4 -1.15,-3.55 A1.15,1.15 0 0 1 1.15,-3.55 C1.15,-2.4 0.3,-1 0,0.6 Z" transform="rotate(59)"/><path d="M0,0.6 C-0.3,-1 -1.15,-2.4 -1.15,-3.55 A1.15,1.15 0 0 1 1.15,-3.55 C1.15,-2.4 0.3,-1 0,0.6 Z" transform="rotate(121)"/><path d="M0,0.6 C-0.3,-1 -1.15,-2.4 -1.15,-3.55 A1.15,1.15 0 0 1 1.15,-3.55 C1.15,-2.4 0.3,-1 0,0.6 Z" transform="rotate(239)"/><path d="M0,0.6 C-0.3,-1 -1.15,-2.4 -1.15,-3.55 A1.15,1.15 0 0 1 1.15,-3.55 C1.15,-2.4 0.3,-1 0,0.6 Z" transform="rotate(301)"/><circle r="1.3"/></g>
<g transform="translate(1337.8,421) scale(1.0)" fill="#000"><path d="M0,0.6 C-0.3,-1 -1.15,-3.4 -1.15,-4.55 A1.15,1.15 0 0 1 1.15,-4.55 C1.15,-3.4 0.3,-1 0,0.6 Z"/><path d="M0,0.6 C-0.3,-1 -1.15,-3.4 -1.15,-4.55 A1.15,1.15 0 0 1 1.15,-4.55 C1.15,-3.4 0.3,-1 0,0.6 Z" transform="rotate(180)"/><path d="M0,0.6 C-0.3,-1 -1.15,-2.4 -1.15,-3.55 A1.15,1.15 0 0 1 1.15,-3.55 C1.15,-2.4 0.3,-1 0,0.6 Z" transform="rotate(59)"/><path d="M0,0.6 C-0.3,-1 -1.15,-2.4 -1.15,-3.55 A1.15,1.15 0 0 1 1.15,-3.55 C1.15,-2.4 0.3,-1 0,0.6 Z" transform="rotate(121)"/><path d="M0,0.6 C-0.3,-1 -1.15,-2.4 -1.15,-3.55 A1.15,1.15 0 0 1 1.15,-3.55 C1.15,-2.4 0.3,-1 0,0.6 Z" transform="rotate(239)"/><path d="M0,0.6 C-0.3,-1 -1.15,-2.4 -1.15,-3.55 A1.15,1.15 0 0 1 1.15,-3.55 C1.15,-2.4 0.3,-1 0,0.6 Z" transform="rotate(301)"/><circle r="1.3"/></g>
<g transform="translate(1351.45,421) scale(1.0)" fill="#000"><path d="M0,0.6 C-0.3,-1 -1.15,-3.4 -1.15,-4.55 A1.15,1.15 0 0 1 1.15,-4.55 C1.15,-3.4 0.3,-1 0,0.6 Z"/><path d="M0,0.6 C-0.3,-1 -1.15,-3.4 -1.15,-4.55 A1.15,1.15 0 0 1 1.15,-4.55 C1.15,-3.4 0.3,-1 0,0.6 Z" transform="rotate(180)"/><path d="M0,0.6 C-0.3,-1 -1.15,-2.4 -1.15,-3.55 A1.15,1.15 0 0 1 1.15,-3.55 C1.15,-2.4 0.3,-1 0,0.6 Z" transform="rotate(59)"/><path d="M0,0.6 C-0.3,-1 -1.15,-2.4 -1.15,-3.55 A1.15,1.15 0 0 1 1.15,-3.55 C1.15,-2.4 0.3,-1 0,0.6 Z" transform="rotate(121)"/><path d="M0,0.6 C-0.3,-1 -1.15,-2.4 -1.15,-3.55 A1.15,1.15 0 0 1 1.15,-3.55 C1.15,-2.4 0.3,-1 0,0.6 Z" transform="rotate(239)"/><path d="M0,0.6 C-0.3,-1 -1.15,-2.4 -1.15,-3.55 A1.15,1.15 0 0 1 1.15,-3.55 C1.15,-2.4 0.3,-1 0,0.6 Z" transform="rotate(301)"/><circle r="1.3"/></g>
<text x="0" y="0" font-family='"Liberation Serif", serif' font-size="24.8" text-anchor="end" font-weight="normal" fill="#000" transform="translate(1343.4,495.7) rotate(-45) scale(0.96,1)" stroke="#fff" stroke-width="0.2">Osi 2.5</text>
<line x1="1428.9" y1="439.5" x2="1428.9" y2="443.8" stroke="#a0a0a0" stroke-width="3.3" stroke-linecap="butt"/>
<line x1="1414.4" y1="439.5" x2="1443.4" y2="439.5" stroke="#a0a0a0" stroke-width="3.6" stroke-linecap="butt"/>
<rect x="1396.15" y="441.8" width="65.5" height="22.7" fill="#a0a0a0"/>
<line x1="1428.9" y1="464.5" x2="1428.9" y2="475.5" stroke="#000" stroke-width="3.6" stroke-linecap="butt"/>
<g transform="translate(1415.25,423.4) scale(1.0)" fill="#000"><path d="M0,0.6 C-0.3,-1 -1.15,-3.4 -1.15,-4.55 A1.15,1.15 0 0 1 1.15,-4.55 C1.15,-3.4 0.3,-1 0,0.6 Z"/><path d="M0,0.6 C-0.3,-1 -1.15,-3.4 -1.15,-4.55 A1.15,1.15 0 0 1 1.15,-4.55 C1.15,-3.4 0.3,-1 0,0.6 Z" transform="rotate(180)"/><path d="M0,0.6 C-0.3,-1 -1.15,-2.4 -1.15,-3.55 A1.15,1.15 0 0 1 1.15,-3.55 C1.15,-2.4 0.3,-1 0,0.6 Z" transform="rotate(59)"/><path d="M0,0.6 C-0.3,-1 -1.15,-2.4 -1.15,-3.55 A1.15,1.15 0 0 1 1.15,-3.55 C1.15,-2.4 0.3,-1 0,0.6 Z" transform="rotate(121)"/><path d="M0,0.6 C-0.3,-1 -1.15,-2.4 -1.15,-3.55 A1.15,1.15 0 0 1 1.15,-3.55 C1.15,-2.4 0.3,-1 0,0.6 Z" transform="rotate(239)"/><path d="M0,0.6 C-0.3,-1 -1.15,-2.4 -1.15,-3.55 A1.15,1.15 0 0 1 1.15,-3.55 C1.15,-2.4 0.3,-1 0,0.6 Z" transform="rotate(301)"/><circle r="1.3"/></g>
<g transform="translate(1428.9,423.4) scale(1.0)" fill="#000"><path d="M0,0.6 C-0.3,-1 -1.15,-3.4 -1.15,-4.55 A1.15,1.15 0 0 1 1.15,-4.55 C1.15,-3.4 0.3,-1 0,0.6 Z"/><path d="M0,0.6 C-0.3,-1 -1.15,-3.4 -1.15,-4.55 A1.15,1.15 0 0 1 1.15,-4.55 C1.15,-3.4 0.3,-1 0,0.6 Z" transform="rotate(180)"/><path d="M0,0.6 C-0.3,-1 -1.15,-2.4 -1.15,-3.55 A1.15,1.15 0 0 1 1.15,-3.55 C1.15,-2.4 0.3,-1 0,0.6 Z" transform="rotate(59)"/><path d="M0,0.6 C-0.3,-1 -1.15,-2.4 -1.15,-3.55 A1.15,1.15 0 0 1 1.15,-3.55 C1.15,-2.4 0.3,-1 0,0.6 Z" transform="rotate(121)"/><path d="M0,0.6 C-0.3,-1 -1.15,-2.4 -1.15,-3.55 A1.15,1.15 0 0 1 1.15,-3.55 C1.15,-2.4 0.3,-1 0,0.6 Z" transform="rotate(239)"/><path d="M0,0.6 C-0.3,-1 -1.15,-2.4 -1.15,-3.55 A1.15,1.15 0 0 1 1.15,-3.55 C1.15,-2.4 0.3,-1 0,0.6 Z" transform="rotate(301)"/><circle r="1.3"/></g>
<g transform="translate(1442.55,423.4) scale(1.0)" fill="#000"><path d="M0,0.6 C-0.3,-1 -1.15,-3.4 -1.15,-4.55 A1.15,1.15 0 0 1 1.15,-4.55 C1.15,-3.4 0.3,-1 0,0.6 Z"/><path d="M0,0.6 C-0.3,-1 -1.15,-3.4 -1.15,-4.55 A1.15,1.15 0 0 1 1.15,-4.55 C1.15,-3.4 0.3,-1 0,0.6 Z" transform="rotate(180)"/><path d="M0,0.6 C-0.3,-1 -1.15,-2.4 -1.15,-3.55 A1.15,1.15 0 0 1 1.15,-3.55 C1.15,-2.4 0.3,-1 0,0.6 Z" transform="rotate(59)"/><path d="M0,0.6 C-0.3,-1 -1.15,-2.4 -1.15,-3.55 A1.15,1.15 0 0 1 1.15,-3.55 C1.15,-2.4 0.3,-1 0,0.6 Z" transform="rotate(121)"/><path d="M0,0.6 C-0.3,-1 -1.15,-2.4 -1.15,-3.55 A1.15,1.15 0 0 1 1.15,-3.55 C1.15,-2.4 0.3,-1 0,0.6 Z" transform="rotate(239)"/><path d="M0,0.6 C-0.3,-1 -1.15,-2.4 -1.15,-3.55 A1.15,1.15 0 0 1 1.15,-3.55 C1.15,-2.4 0.3,-1 0,0.6 Z" transform="rotate(301)"/><circle r="1.3"/></g>
<text x="0" y="0" font-family='"Liberation Serif", serif' font-size="24.8" text-anchor="end" font-weight="normal" fill="#000" transform="translate(1434.5,495.7) rotate(-45) scale(0.96,1)" stroke="#fff" stroke-width="0.2">Poz 1</text>
<text x="0" y="0" font-family='"Liberation Serif", serif' font-size="28.2" text-anchor="middle" transform="translate(845.5,251) rotate(-90)">Mean Tumor weight (g)</text>
<line x1="913" y1="694.5" x2="913" y2="840" stroke="#000" stroke-width="3.3" stroke-linecap="butt"/>
<line x1="913" y1="866.6" x2="913" y2="1081" stroke="#000" stroke-width="3.3" stroke-linecap="butt"/>
<line x1="902.5" y1="1079.5" x2="1490" y2="1079.5" stroke="#000" stroke-width="3.6" stroke-linecap="butt"/>
<line x1="902.5" y1="696" x2="913" y2="696" stroke="#000" stroke-width="3.4" stroke-linecap="butt"/>
<text x="0" y="0" font-family='"Liberation Serif", serif' font-size="25.4" text-anchor="end" font-weight="normal" fill="#000" transform="translate(898.5,702.3) scale(0.95,1)" stroke="#fff" stroke-width="0.2">2.0</text>
<line x1="902.5" y1="738.3" x2="913" y2="738.3" stroke="#000" stroke-width="3.4" stroke-linecap="butt"/>
<text x="0" y="0" font-family='"Liberation Serif", serif' font-size="25.4" text-anchor="end" font-weight="normal" fill="#000" transform="translate(898.5,744.6) scale(0.95,1)" stroke="#fff" stroke-width="0.2">1.5</text>
<line x1="902.5" y1="780.6" x2="913" y2="780.6" stroke="#000" stroke-width="3.4" stroke-linecap="butt"/>
<text x="0" y="0" font-family='"Liberation Serif", serif' font-size="25.4" text-anchor="end" font-weight="normal" fill="#000" transform="translate(898.5,786.9) scale(0.95,1)" stroke="#fff" stroke-width="0.2">1.0</text>
<line x1="902.5" y1="822" x2="913" y2="822" stroke="#000" stroke-width="3.4" stroke-linecap="butt"/>
<text x="0" y="0" font-family='"Liberation Serif", serif' font-size="25.4" text-anchor="end" font-weight="normal" fill="#000" transform="translate(898.5,828.3) scale(0.95,1)" stroke="#fff" stroke-width="0.2">0.5</text>
<line x1="902.5" y1="927.7" x2="913" y2="927.7" stroke="#000" stroke-width="3.4" stroke-linecap="butt"/>
<text x="0" y="0" font-family='"Liberation Serif", serif' font-size="25.4" text-anchor="end" font-weight="normal" fill="#000" transform="translate(898.5,934) scale(0.95,1)" stroke="#fff" stroke-width="0.2">0.2</text>
<line x1="902.5" y1="1003.6" x2="913" y2="1003.6" stroke="#000" stroke-width="3.4" stroke-linecap="butt"/>
<text x="0" y="0" font-family='"Liberation Serif", serif' font-size="25.4" text-anchor="end" font-weight="normal" fill="#000" transform="translate(898.5,1009.9) scale(0.95,1)" stroke="#fff" stroke-width="0.2">0.1</text>
<line x1="902.5" y1="1079.5" x2="913" y2="1079.5" stroke="#000" stroke-width="3.4" stroke-linecap="butt"/>
<text x="0" y="0" font-family='"Liberation Serif", serif' font-size="25.4" text-anchor="end" font-weight="normal" fill="#000" transform="translate(898.5,1085.8) scale(0.95,1)" stroke="#fff" stroke-width="0.2">0.0</text>
<line x1="973.6" y1="742.3" x2="973.6" y2="770.6" stroke="#000" stroke-width="3.3" stroke-linecap="butt"/>
<line x1="959.1" y1="742.3" x2="988.1" y2="742.3" stroke="#000" stroke-width="3.6" stroke-linecap="butt"/>
<rect x="940.85" y="768.6" width="65.5" height="69.4" fill="#000"/>
<rect x="940.85" y="867.4" width="65.5" height="212.1" fill="#000"/>
<line x1="973.6" y1="1079.5" x2="973.6" y2="1090.5" stroke="#000" stroke-width="3.6" stroke-linecap="butt"/>
<text x="0" y="0" font-family='"Liberation Serif", serif' font-size="24.8" text-anchor="end" font-weight="normal" fill="#000" transform="translate(978.6,1105.5) rotate(-45) scale(0.96,1)" stroke="#fff" stroke-width="0.2">control</text>
<line x1="1064.6" y1="903.1" x2="1064.6" y2="949.3" stroke="#000" stroke-width="3.3" stroke-linecap="butt"/>
<line x1="1050.1" y1="903.1" x2="1079.1" y2="903.1" stroke="#000" stroke-width="3.6" stroke-linecap="butt"/>
<rect x="1031.85" y="947.3" width="65.5" height="132.2" fill="#000"/>
<line x1="1064.6" y1="1079.5" x2="1064.6" y2="1090.5" stroke="#000" stroke-width="3.6" stroke-linecap="butt"/>
<g transform="translate(1050.95,885.6) scale(1.0)" fill="#000"><path d="M0,0.6 C-0.3,-1 -1.15,-3.4 -1.15,-4.55 A1.15,1.15 0 0 1 1.15,-4.55 C1.15,-3.4 0.3,-1 0,0.6 Z"/><path d="M0,0.6 C-0.3,-1 -1.15,-3.4 -1.15,-4.55 A1.15,1.15 0 0 1 1.15,-4.55 C1.15,-3.4 0.3,-1 0,0.6 Z" transform="rotate(180)"/><path d="M0,0.6 C-0.3,-1 -1.15,-2.4 -1.15,-3.55 A1.15,1.15 0 0 1 1.15,-3.55 C1.15,-2.4 0.3,-1 0,0.6 Z" transform="rotate(59)"/><path d="M0,0.6 C-0.3,-1 -1.15,-2.4 -1.15,-3.55 A1.15,1.15 0 0 1 1.15,-3.55 C1.15,-2.4 0.3,-1 0,0.6 Z" transform="rotate(121)"/><path d="M0,0.6 C-0.3,-1 -1.15,-2.4 -1.15,-3.55 A1.15,1.15 0 0 1 1.15,-3.55 C1.15,-2.4 0.3,-1 0,0.6 Z" transform="rotate(239)"/><path d="M0,0.6 C-0.3,-1 -1.15,-2.4 -1.15,-3.55 A1.15,1.15 0 0 1 1.15,-3.55 C1.15,-2.4 0.3,-1 0,0.6 Z" transform="rotate(301)"/><circle r="1.3"/></g>
<g transform="translate(1064.6,885.6) scale(1.0)" fill="#000"><path d="M0,0.6 C-0.3,-1 -1.15,-3.4 -1.15,-4.55 A1.15,1.15 0 0 1 1.15,-4.55 C1.15,-3.4 0.3,-1 0,0.6 Z"/><path d="M0,0.6 C-0.3,-1 -1.15,-3.4 -1.15,-4.55 A1.15,1.15 0 0 1 1.15,-4.55 C1.15,-3.4 0.3,-1 0,0.6 Z" transform="rotate(180)"/><path d="M0,0.6 C-0.3,-1 -1.15,-2.4 -1.15,-3.55 A1.15,1.15 0 0 1 1.15,-3.55 C1.15,-2.4 0.3,-1 0,0.6 Z" transform="rotate(59)"/><path d="M0,0.6 C-0.3,-1 -1.15,-2.4 -1.15,-3.55 A1.15,1.15 0 0 1 1.15,-3.55 C1.15,-2.4 0.3,-1 0,0.6 Z" transform="rotate(121)"/><path d="M0,0.6 C-0.3,-1 -1.15,-2.4 -1.15,-3.55 A1.15,1.15 0 0 1 1.15,-3.55 C1.15,-2.4 0.3,-1 0,0.6 Z" transform="rotate(239)"/><path d="M0,0.6 C-0.3,-1 -1.15,-2.4 -1.15,-3.55 A1.15,1.15 0 0 1 1.15,-3.55 C1.15,-2.4 0.3,-1 0,0.6 Z" transform="rotate(301)"/><circle r="1.3"/></g>
<g transform="translate(1078.25,885.6) scale(1.0)" fill="#000"><path d="M0,0.6 C-0.3,-1 -1.15,-3.4 -1.15,-4.55 A1.15,1.15 0 0 1 1.15,-4.55 C1.15,-3.4 0.3,-1 0,0.6 Z"/><path d="M0,0.6 C-0.3,-1 -1.15,-3.4 -1.15,-4.55 A1.15,1.15 0 0 1 1.15,-4.55 C1.15,-3.4 0.3,-1 0,0.6 Z" transform="rotate(180)"/><path d="M0,0.6 C-0.3,-1 -1.15,-2.4 -1.15,-3.55 A1.15,1.15 0 0 1 1.15,-3.55 C1.15,-2.4 0.3,-1 0,0.6 Z" transform="rotate(59)"/><path d="M0,0.6 C-0.3,-1 -1.15,-2.4 -1.15,-3.55 A1.15,1.15 0 0 1 1.15,-3.55 C1.15,-2.4 0.3,-1 0,0.6 Z" transform="rotate(121)"/><path d="M0,0.6 C-0.3,-1 -1.15,-2.4 -1.15,-3.55 A1.15,1.15 0 0 1 1.15,-3.55 C1.15,-2.4 0.3,-1 0,0.6 Z" transform="rotate(239)"/><path d="M0,0.6 C-0.3,-1 -1.15,-2.4 -1.15,-3.55 A1.15,1.15 0 0 1 1.15,-3.55 C1.15,-2.4 0.3,-1 0,0.6 Z" transform="rotate(301)"/><circle r="1.3"/></g>
<text x="0" y="0" font-family='"Liberation Serif", serif' font-size="24.8" text-anchor="end" font-weight="normal" fill="#000" transform="translate(1065.6,1111.5) rotate(-45) scale(0.96,1)" stroke="#fff" stroke-width="0.2">PCC 5</text>
<line x1="1155.6" y1="1053.8" x2="1155.6" y2="1061.8" stroke="#333" stroke-width="3.3" stroke-linecap="butt"/>
<line x1="1141.1" y1="1053.8" x2="1170.1" y2="1053.8" stroke="#333" stroke-width="3.6" stroke-linecap="butt"/>
<rect x="1122.85" y="1059.8" width="65.5" height="19.7" fill="#333"/>
<line x1="1155.6" y1="1079.5" x2="1155.6" y2="1090.5" stroke="#000" stroke-width="3.6" stroke-linecap="butt"/>
<g transform="translate(1141.95,1036) scale(1.0)" fill="#000"><path d="M0,0.6 C-0.3,-1 -1.15,-3.4 -1.15,-4.55 A1.15,1.15 0 0 1 1.15,-4.55 C1.15,-3.4 0.3,-1 0,0.6 Z"/><path d="M0,0.6 C-0.3,-1 -1.15,-3.4 -1.15,-4.55 A1.15,1.15 0 0 1 1.15,-4.55 C1.15,-3.4 0.3,-1 0,0.6 Z" transform="rotate(180)"/><path d="M0,0.6 C-0.3,-1 -1.15,-2.4 -1.15,-3.55 A1.15,1.15 0 0 1 1.15,-3.55 C1.15,-2.4 0.3,-1 0,0.6 Z" transform="rotate(59)"/><path d="M0,0.6 C-0.3,-1 -1.15,-2.4 -1.15,-3.55 A1.15,1.15 0 0 1 1.15,-3.55 C1.15,-2.4 0.3,-1 0,0.6 Z" transform="rotate(121)"/><path d="M0,0.6 C-0.3,-1 -1.15,-2.4 -1.15,-3.55 A1.15,1.15 0 0 1 1.15,-3.55 C1.15,-2.4 0.3,-1 0,0.6 Z" transform="rotate(239)"/><path d="M0,0.6 C-0.3,-1 -1.15,-2.4 -1.15,-3.55 A1.15,1.15 0 0 1 1.15,-3.55 C1.15,-2.4 0.3,-1 0,0.6 Z" transform="rotate(301)"/><circle r="1.3"/></g>
<g transform="translate(1155.6,1036) scale(1.0)" fill="#000"><path d="M0,0.6 C-0.3,-1 -1.15,-3.4 -1.15,-4.55 A1.15,1.15 0 0 1 1.15,-4.55 C1.15,-3.4 0.3,-1 0,0.6 Z"/><path d="M0,0.6 C-0.3,-1 -1.15,-3.4 -1.15,-4.55 A1.15,1.15 0 0 1 1.15,-4.55 C1.15,-3.4 0.3,-1 0,0.6 Z" transform="rotate(180)"/><path d="M0,0.6 C-0.3,-1 -1.15,-2.4 -1.15,-3.55 A1.15,1.15 0 0 1 1.15,-3.55 C1.15,-2.4 0.3,-1 0,0.6 Z" transform="rotate(59)"/><path d="M0,0.6 C-0.3,-1 -1.15,-2.4 -1.15,-3.55 A1.15,1.15 0 0 1 1.15,-3.55 C1.15,-2.4 0.3,-1 0,0.6 Z" transform="rotate(121)"/><path d="M0,0.6 C-0.3,-1 -1.15,-2.4 -1.15,-3.55 A1.15,1.15 0 0 1 1.15,-3.55 C1.15,-2.4 0.3,-1 0,0.6 Z" transform="rotate(239)"/><path d="M0,0.6 C-0.3,-1 -1.15,-2.4 -1.15,-3.55 A1.15,1.15 0 0 1 1.15,-3.55 C1.15,-2.4 0.3,-1 0,0.6 Z" transform="rotate(301)"/><circle r="1.3"/></g>
<g transform="translate(1169.25,1036) scale(1.0)" fill="#000"><path d="M0,0.6 C-0.3,-1 -1.15,-3.4 -1.15,-4.55 A1.15,1.15 0 0 1 1.15,-4.55 C1.15,-3.4 0.3,-1 0,0.6 Z"/><path d="M0,0.6 C-0.3,-1 -1.15,-3.4 -1.15,-4.55 A1.15,1.15 0 0 1 1.15,-4.55 C1.15,-3.4 0.3,-1 0,0.6 Z" transform="rotate(180)"/><path d="M0,0.6 C-0.3,-1 -1.15,-2.4 -1.15,-3.55 A1.15,1.15 0 0 1 1.15,-3.55 C1.15,-2.4 0.3,-1 0,0.6 Z" transform="rotate(59)"/><path d="M0,0.6 C-0.3,-1 -1.15,-2.4 -1.15,-3.55 A1.15,1.15 0 0 1 1.15,-3.55 C1.15,-2.4 0.3,-1 0,0.6 Z" transform="rotate(121)"/><path d="M0,0.6 C-0.3,-1 -1.15,-2.4 -1.15,-3.55 A1.15,1.15 0 0 1 1.15,-3.55 C1.15,-2.4 0.3,-1 0,0.6 Z" transform="rotate(239)"/><path d="M0,0.6 C-0.3,-1 -1.15,-2.4 -1.15,-3.55 A1.15,1.15 0 0 1 1.15,-3.55 C1.15,-2.4 0.3,-1 0,0.6 Z" transform="rotate(301)"/><circle r="1.3"/></g>
<text x="0" y="0" font-family='"Liberation Serif", serif' font-size="24.8" text-anchor="end" font-weight="normal" fill="#000" transform="translate(1157.6,1109.5) rotate(-45) scale(0.96,1)" stroke="#fff" stroke-width="0.2">PCC 10</text>
<line x1="1246.7" y1="772.1" x2="1246.7" y2="798.1" stroke="#5f5f5f" stroke-width="3.3" stroke-linecap="butt"/>
<line x1="1232.2" y1="772.1" x2="1261.2" y2="772.1" stroke="#5f5f5f" stroke-width="3.6" stroke-linecap="butt"/>
<rect x="1213.95" y="796.1" width="65.5" height="41.8" fill="#5f5f5f"/>
<rect x="1213.95" y="867.6" width="65.5" height="211.9" fill="#5f5f5f"/>
<line x1="1246.7" y1="1079.5" x2="1246.7" y2="1090.5" stroke="#000" stroke-width="3.6" stroke-linecap="butt"/>
<text x="0" y="0" font-family='"Liberation Serif", serif' font-size="24.8" text-anchor="end" font-weight="normal" fill="#000" transform="translate(1248.7,1112) rotate(-45) scale(0.96,1)" stroke="#fff" stroke-width="0.2">Erl 100</text>
<line x1="1337.8" y1="1060.3" x2="1337.8" y2="1067" stroke="#808080" stroke-width="3.3" stroke-linecap="butt"/>
<line x1="1323.3" y1="1060.3" x2="1352.3" y2="1060.3" stroke="#808080" stroke-width="3.6" stroke-linecap="butt"/>
<rect x="1305.05" y="1065" width="65.5" height="14.5" fill="#808080"/>
<line x1="1337.8" y1="1079.5" x2="1337.8" y2="1090.5" stroke="#000" stroke-width="3.6" stroke-linecap="butt"/>
<g transform="translate(1324.15,1044) scale(1.0)" fill="#000"><path d="M0,0.6 C-0.3,-1 -1.15,-3.4 -1.15,-4.55 A1.15,1.15 0 0 1 1.15,-4.55 C1.15,-3.4 0.3,-1 0,0.6 Z"/><path d="M0,0.6 C-0.3,-1 -1.15,-3.4 -1.15,-4.55 A1.15,1.15 0 0 1 1.15,-4.55 C1.15,-3.4 0.3,-1 0,0.6 Z" transform="rotate(180)"/><path d="M0,0.6 C-0.3,-1 -1.15,-2.4 -1.15,-3.55 A1.15,1.15 0 0 1 1.15,-3.55 C1.15,-2.4 0.3,-1 0,0.6 Z" transform="rotate(59)"/><path d="M0,0.6 C-0.3,-1 -1.15,-2.4 -1.15,-3.55 A1.15,1.15 0 0 1 1.15,-3.55 C1.15,-2.4 0.3,-1 0,0.6 Z" transform="rotate(121)"/><path d="M0,0.6 C-0.3,-1 -1.15,-2.4 -1.15,-3.55 A1.15,1.15 0 0 1 1.15,-3.55 C1.15,-2.4 0.3,-1 0,0.6 Z" transform="rotate(239)"/><path d="M0,0.6 C-0.3,-1 -1.15,-2.4 -1.15,-3.55 A1.15,1.15 0 0 1 1.15,-3.55 C1.15,-2.4 0.3,-1 0,0.6 Z" transform="rotate(301)"/><circle r="1.3"/></g>
<g transform="translate(1337.8,1044) scale(1.0)" fill="#000"><path d="M0,0.6 C-0.3,-1 -1.15,-3.4 -1.15,-4.55 A1.15,1.15 0 0 1 1.15,-4.55 C1.15,-3.4 0.3,-1 0,0.6 Z"/><path d="M0,0.6 C-0.3,-1 -1.15,-3.4 -1.15,-4.55 A1.15,1.15 0 0 1 1.15,-4.55 C1.15,-3.4 0.3,-1 0,0.6 Z" transform="rotate(180)"/><path d="M0,0.6 C-0.3,-1 -1.15,-2.4 -1.15,-3.55 A1.15,1.15 0 0 1 1.15,-3.55 C1.15,-2.4 0.3,-1 0,0.6 Z" transform="rotate(59)"/><path d="M0,0.6 C-0.3,-1 -1.15,-2.4 -1.15,-3.55 A1.15,1.15 0 0 1 1.15,-3.55 C1.15,-2.4 0.3,-1 0,0.6 Z" transform="rotate(121)"/><path d="M0,0.6 C-0.3,-1 -1.15,-2.4 -1.15,-3.55 A1.15,1.15 0 0 1 1.15,-3.55 C1.15,-2.4 0.3,-1 0,0.6 Z" transform="rotate(239)"/><path d="M0,0.6 C-0.3,-1 -1.15,-2.4 -1.15,-3.55 A1.15,1.15 0 0 1 1.15,-3.55 C1.15,-2.4 0.3,-1 0,0.6 Z" transform="rotate(301)"/><circle r="1.3"/></g>
<g transform="translate(1351.45,1044) scale(1.0)" fill="#000"><path d="M0,0.6 C-0.3,-1 -1.15,-3.4 -1.15,-4.55 A1.15,1.15 0 0 1 1.15,-4.55 C1.15,-3.4 0.3,-1 0,0.6 Z"/><path d="M0,0.6 C-0.3,-1 -1.15,-3.4 -1.15,-4.55 A1.15,1.15 0 0 1 1.15,-4.55 C1.15,-3.4 0.3,-1 0,0.6 Z" transform="rotate(180)"/><path d="M0,0.6 C-0.3,-1 -1.15,-2.4 -1.15,-3.55 A1.15,1.15 0 0 1 1.15,-3.55 C1.15,-2.4 0.3,-1 0,0.6 Z" transform="rotate(59)"/><path d="M0,0.6 C-0.3,-1 -1.15,-2.4 -1.15,-3.55 A1.15,1.15 0 0 1 1.15,-3.55 C1.15,-2.4 0.3,-1 0,0.6 Z" transform="rotate(121)"/><path d="M0,0.6 C-0.3,-1 -1.15,-2.4 -1.15,-3.55 A1.15,1.15 0 0 1 1.15,-3.55 C1.15,-2.4 0.3,-1 0,0.6 Z" transform="rotate(239)"/><path d="M0,0.6 C-0.3,-1 -1.15,-2.4 -1.15,-3.55 A1.15,1.15 0 0 1 1.15,-3.55 C1.15,-2.4 0.3,-1 0,0.6 Z" transform="rotate(301)"/><circle r="1.3"/></g>
<text x="0" y="0" font-family='"Liberation Serif", serif' font-size="24.8" text-anchor="end" font-weight="normal" fill="#000" transform="translate(1339.8,1111.5) rotate(-45) scale(0.96,1)" stroke="#fff" stroke-width="0.2">Osi 10</text>
<line x1="1428.9" y1="1056.6" x2="1428.9" y2="1063.6" stroke="#a0a0a0" stroke-width="3.3" stroke-linecap="butt"/>
<line x1="1414.4" y1="1056.6" x2="1443.4" y2="1056.6" stroke="#a0a0a0" stroke-width="3.6" stroke-linecap="butt"/>
<rect x="1396.15" y="1061.6" width="65.5" height="17.9" fill="#a0a0a0"/>
<line x1="1428.9" y1="1079.5" x2="1428.9" y2="1090.5" stroke="#000" stroke-width="3.6" stroke-linecap="butt"/>
<g transform="translate(1415.25,1041.3) scale(1.0)" fill="#000"><path d="M0,0.6 C-0.3,-1 -1.15,-3.4 -1.15,-4.55 A1.15,1.15 0 0 1 1.15,-4.55 C1.15,-3.4 0.3,-1 0,0.6 Z"/><path d="M0,0.6 C-0.3,-1 -1.15,-3.4 -1.15,-4.55 A1.15,1.15 0 0 1 1.15,-4.55 C1.15,-3.4 0.3,-1 0,0.6 Z" transform="rotate(180)"/><path d="M0,0.6 C-0.3,-1 -1.15,-2.4 -1.15,-3.55 A1.15,1.15 0 0 1 1.15,-3.55 C1.15,-2.4 0.3,-1 0,0.6 Z" transform="rotate(59)"/><path d="M0,0.6 C-0.3,-1 -1.15,-2.4 -1.15,-3.55 A1.15,1.15 0 0 1 1.15,-3.55 C1.15,-2.4 0.3,-1 0,0.6 Z" transform="rotate(121)"/><path d="M0,0.6 C-0.3,-1 -1.15,-2.4 -1.15,-3.55 A1.15,1.15 0 0 1 1.15,-3.55 C1.15,-2.4 0.3,-1 0,0.6 Z" transform="rotate(239)"/><path d="M0,0.6 C-0.3,-1 -1.15,-2.4 -1.15,-3.55 A1.15,1.15 0 0 1 1.15,-3.55 C1.15,-2.4 0.3,-1 0,0.6 Z" transform="rotate(301)"/><circle r="1.3"/></g>
<g transform="translate(1428.9,1041.3) scale(1.0)" fill="#000"><path d="M0,0.6 C-0.3,-1 -1.15,-3.4 -1.15,-4.55 A1.15,1.15 0 0 1 1.15,-4.55 C1.15,-3.4 0.3,-1 0,0.6 Z"/><path d="M0,0.6 C-0.3,-1 -1.15,-3.4 -1.15,-4.55 A1.15,1.15 0 0 1 1.15,-4.55 C1.15,-3.4 0.3,-1 0,0.6 Z" transform="rotate(180)"/><path d="M0,0.6 C-0.3,-1 -1.15,-2.4 -1.15,-3.55 A1.15,1.15 0 0 1 1.15,-3.55 C1.15,-2.4 0.3,-1 0,0.6 Z" transform="rotate(59)"/><path d="M0,0.6 C-0.3,-1 -1.15,-2.4 -1.15,-3.55 A1.15,1.15 0 0 1 1.15,-3.55 C1.15,-2.4 0.3,-1 0,0.6 Z" transform="rotate(121)"/><path d="M0,0.6 C-0.3,-1 -1.15,-2.4 -1.15,-3.55 A1.15,1.15 0 0 1 1.15,-3.55 C1.15,-2.4 0.3,-1 0,0.6 Z" transform="rotate(239)"/><path d="M0,0.6 C-0.3,-1 -1.15,-2.4 -1.15,-3.55 A1.15,1.15 0 0 1 1.15,-3.55 C1.15,-2.4 0.3,-1 0,0.6 Z" transform="rotate(301)"/><circle r="1.3"/></g>
<g transform="translate(1442.55,1041.3) scale(1.0)" fill="#000"><path d="M0,0.6 C-0.3,-1 -1.15,-3.4 -1.15,-4.55 A1.15,1.15 0 0 1 1.15,-4.55 C1.15,-3.4 0.3,-1 0,0.6 Z"/><path d="M0,0.6 C-0.3,-1 -1.15,-3.4 -1.15,-4.55 A1.15,1.15 0 0 1 1.15,-4.55 C1.15,-3.4 0.3,-1 0,0.6 Z" transform="rotate(180)"/><path d="M0,0.6 C-0.3,-1 -1.15,-2.4 -1.15,-3.55 A1.15,1.15 0 0 1 1.15,-3.55 C1.15,-2.4 0.3,-1 0,0.6 Z" transform="rotate(59)"/><path d="M0,0.6 C-0.3,-1 -1.15,-2.4 -1.15,-3.55 A1.15,1.15 0 0 1 1.15,-3.55 C1.15,-2.4 0.3,-1 0,0.6 Z" transform="rotate(121)"/><path d="M0,0.6 C-0.3,-1 -1.15,-2.4 -1.15,-3.55 A1.15,1.15 0 0 1 1.15,-3.55 C1.15,-2.4 0.3,-1 0,0.6 Z" transform="rotate(239)"/><path d="M0,0.6 C-0.3,-1 -1.15,-2.4 -1.15,-3.55 A1.15,1.15 0 0 1 1.15,-3.55 C1.15,-2.4 0.3,-1 0,0.6 Z" transform="rotate(301)"/><circle r="1.3"/></g>
<text x="0" y="0" font-family='"Liberation Serif", serif' font-size="24.8" text-anchor="end" font-weight="normal" fill="#000" transform="translate(1434.9,1106.5) rotate(-45) scale(0.96,1)" stroke="#fff" stroke-width="0.2">Poz 2.5</text>
<line x1="903.5" y1="831.9" x2="922.7" y2="849.7" stroke="#000" stroke-width="3.5" stroke-linecap="butt"/>
<line x1="903" y1="856.3" x2="922.7" y2="874.6" stroke="#000" stroke-width="3.5" stroke-linecap="butt"/>
<text x="0" y="0" font-family='"Liberation Serif", serif' font-size="28.5" text-anchor="middle" transform="translate(845.5,891) rotate(-90)">Mean Tumor weight (g)</text>
<line x1="913.9" y1="1294.8" x2="913.9" y2="1676.1" stroke="#000" stroke-width="3.3" stroke-linecap="butt"/>
<line x1="903.4" y1="1674.6" x2="1482.4" y2="1674.6" stroke="#000" stroke-width="3.6" stroke-linecap="butt"/>
<line x1="903.4" y1="1296" x2="913.9" y2="1296" stroke="#000" stroke-width="3.4" stroke-linecap="butt"/>
<text x="0" y="0" font-family='"Liberation Serif", serif' font-size="25.4" text-anchor="end" font-weight="normal" fill="#000" transform="translate(899.4,1302.3) scale(0.95,1)" stroke="#fff" stroke-width="0.2">0.8</text>
<line x1="903.4" y1="1391.1" x2="913.9" y2="1391.1" stroke="#000" stroke-width="3.4" stroke-linecap="butt"/>
<text x="0" y="0" font-family='"Liberation Serif", serif' font-size="25.4" text-anchor="end" font-weight="normal" fill="#000" transform="translate(899.4,1397.4) scale(0.95,1)" stroke="#fff" stroke-width="0.2">0.6</text>
<line x1="903.4" y1="1485.7" x2="913.9" y2="1485.7" stroke="#000" stroke-width="3.4" stroke-linecap="butt"/>
<text x="0" y="0" font-family='"Liberation Serif", serif' font-size="25.4" text-anchor="end" font-weight="normal" fill="#000" transform="translate(899.4,1492) scale(0.95,1)" stroke="#fff" stroke-width="0.2">0.4</text>
<line x1="903.4" y1="1580.8" x2="913.9" y2="1580.8" stroke="#000" stroke-width="3.4" stroke-linecap="butt"/>
<text x="0" y="0" font-family='"Liberation Serif", serif' font-size="25.4" text-anchor="end" font-weight="normal" fill="#000" transform="translate(899.4,1587.1) scale(0.95,1)" stroke="#fff" stroke-width="0.2">0.2</text>
<line x1="903.4" y1="1674.6" x2="913.9" y2="1674.6" stroke="#000" stroke-width="3.4" stroke-linecap="butt"/>
<text x="0" y="0" font-family='"Liberation Serif", serif' font-size="25.4" text-anchor="end" font-weight="normal" fill="#000" transform="translate(899.4,1680.9) scale(0.95,1)" stroke="#fff" stroke-width="0.2">0.0</text>
<line x1="983.6" y1="1365.1" x2="983.6" y2="1440.8" stroke="#000" stroke-width="3.3" stroke-linecap="butt"/>
<line x1="966.6" y1="1365.1" x2="1000.6" y2="1365.1" stroke="#000" stroke-width="3.6" stroke-linecap="butt"/>
<rect x="945.35" y="1438.8" width="76.5" height="235.8" fill="#000"/>
<line x1="983.6" y1="1674.6" x2="983.6" y2="1685.6" stroke="#000" stroke-width="3.6" stroke-linecap="butt"/>
<text x="0" y="0" font-family='"Liberation Serif", serif' font-size="24.8" text-anchor="end" font-weight="normal" fill="#000" transform="translate(991.6,1705.9) rotate(-45) scale(0.96,1)" stroke="#fff" stroke-width="0.2">control</text>
<line x1="1090" y1="1513.3" x2="1090" y2="1557.9" stroke="#000" stroke-width="3.3" stroke-linecap="butt"/>
<line x1="1073" y1="1513.3" x2="1107" y2="1513.3" stroke="#000" stroke-width="3.6" stroke-linecap="butt"/>
<rect x="1051.75" y="1555.9" width="76.5" height="118.7" fill="#000"/>
<line x1="1090" y1="1674.6" x2="1090" y2="1685.6" stroke="#000" stroke-width="3.6" stroke-linecap="butt"/>
<g transform="translate(1083.17,1502.4) scale(1.0)" fill="#000"><path d="M0,0.6 C-0.3,-1 -1.15,-3.4 -1.15,-4.55 A1.15,1.15 0 0 1 1.15,-4.55 C1.15,-3.4 0.3,-1 0,0.6 Z"/><path d="M0,0.6 C-0.3,-1 -1.15,-3.4 -1.15,-4.55 A1.15,1.15 0 0 1 1.15,-4.55 C1.15,-3.4 0.3,-1 0,0.6 Z" transform="rotate(180)"/><path d="M0,0.6 C-0.3,-1 -1.15,-2.4 -1.15,-3.55 A1.15,1.15 0 0 1 1.15,-3.55 C1.15,-2.4 0.3,-1 0,0.6 Z" transform="rotate(59)"/><path d="M0,0.6 C-0.3,-1 -1.15,-2.4 -1.15,-3.55 A1.15,1.15 0 0 1 1.15,-3.55 C1.15,-2.4 0.3,-1 0,0.6 Z" transform="rotate(121)"/><path d="M0,0.6 C-0.3,-1 -1.15,-2.4 -1.15,-3.55 A1.15,1.15 0 0 1 1.15,-3.55 C1.15,-2.4 0.3,-1 0,0.6 Z" transform="rotate(239)"/><path d="M0,0.6 C-0.3,-1 -1.15,-2.4 -1.15,-3.55 A1.15,1.15 0 0 1 1.15,-3.55 C1.15,-2.4 0.3,-1 0,0.6 Z" transform="rotate(301)"/><circle r="1.3"/></g>
<g transform="translate(1096.83,1502.4) scale(1.0)" fill="#000"><path d="M0,0.6 C-0.3,-1 -1.15,-3.4 -1.15,-4.55 A1.15,1.15 0 0 1 1.15,-4.55 C1.15,-3.4 0.3,-1 0,0.6 Z"/><path d="M0,0.6 C-0.3,-1 -1.15,-3.4 -1.15,-4.55 A1.15,1.15 0 0 1 1.15,-4.55 C1.15,-3.4 0.3,-1 0,0.6 Z" transform="rotate(180)"/><path d="M0,0.6 C-0.3,-1 -1.15,-2.4 -1.15,-3.55 A1.15,1.15 0 0 1 1.15,-3.55 C1.15,-2.4 0.3,-1 0,0.6 Z" transform="rotate(59)"/><path d="M0,0.6 C-0.3,-1 -1.15,-2.4 -1.15,-3.55 A1.15,1.15 0 0 1 1.15,-3.55 C1.15,-2.4 0.3,-1 0,0.6 Z" transform="rotate(121)"/><path d="M0,0.6 C-0.3,-1 -1.15,-2.4 -1.15,-3.55 A1.15,1.15 0 0 1 1.15,-3.55 C1.15,-2.4 0.3,-1 0,0.6 Z" transform="rotate(239)"/><path d="M0,0.6 C-0.3,-1 -1.15,-2.4 -1.15,-3.55 A1.15,1.15 0 0 1 1.15,-3.55 C1.15,-2.4 0.3,-1 0,0.6 Z" transform="rotate(301)"/><circle r="1.3"/></g>
<text x="0" y="0" font-family='"Liberation Serif", serif' font-size="24.8" text-anchor="end" font-weight="normal" fill="#000" transform="translate(1091,1710.9) rotate(-45) scale(0.96,1)" stroke="#fff" stroke-width="0.2">PCC 2.5</text>
<line x1="1196.5" y1="1598.2" x2="1196.5" y2="1628" stroke="#333" stroke-width="3.3" stroke-linecap="butt"/>
<line x1="1179.5" y1="1598.2" x2="1213.5" y2="1598.2" stroke="#333" stroke-width="3.6" stroke-linecap="butt"/>
<rect x="1158.25" y="1626" width="76.5" height="48.6" fill="#333"/>
<line x1="1196.5" y1="1674.6" x2="1196.5" y2="1685.6" stroke="#000" stroke-width="3.6" stroke-linecap="butt"/>
<g transform="translate(1182.85,1582.2) scale(1.0)" fill="#000"><path d="M0,0.6 C-0.3,-1 -1.15,-3.4 -1.15,-4.55 A1.15,1.15 0 0 1 1.15,-4.55 C1.15,-3.4 0.3,-1 0,0.6 Z"/><path d="M0,0.6 C-0.3,-1 -1.15,-3.4 -1.15,-4.55 A1.15,1.15 0 0 1 1.15,-4.55 C1.15,-3.4 0.3,-1 0,0.6 Z" transform="rotate(180)"/><path d="M0,0.6 C-0.3,-1 -1.15,-2.4 -1.15,-3.55 A1.15,1.15 0 0 1 1.15,-3.55 C1.15,-2.4 0.3,-1 0,0.6 Z" transform="rotate(59)"/><path d="M0,0.6 C-0.3,-1 -1.15,-2.4 -1.15,-3.55 A1.15,1.15 0 0 1 1.15,-3.55 C1.15,-2.4 0.3,-1 0,0.6 Z" transform="rotate(121)"/><path d="M0,0.6 C-0.3,-1 -1.15,-2.4 -1.15,-3.55 A1.15,1.15 0 0 1 1.15,-3.55 C1.15,-2.4 0.3,-1 0,0.6 Z" transform="rotate(239)"/><path d="M0,0.6 C-0.3,-1 -1.15,-2.4 -1.15,-3.55 A1.15,1.15 0 0 1 1.15,-3.55 C1.15,-2.4 0.3,-1 0,0.6 Z" transform="rotate(301)"/><circle r="1.3"/></g>
<g transform="translate(1196.5,1582.2) scale(1.0)" fill="#000"><path d="M0,0.6 C-0.3,-1 -1.15,-3.4 -1.15,-4.55 A1.15,1.15 0 0 1 1.15,-4.55 C1.15,-3.4 0.3,-1 0,0.6 Z"/><path d="M0,0.6 C-0.3,-1 -1.15,-3.4 -1.15,-4.55 A1.15,1.15 0 0 1 1.15,-4.55 C1.15,-3.4 0.3,-1 0,0.6 Z" transform="rotate(180)"/><path d="M0,0.6 C-0.3,-1 -1.15,-2.4 -1.15,-3.55 A1.15,1.15 0 0 1 1.15,-3.55 C1.15,-2.4 0.3,-1 0,0.6 Z" transform="rotate(59)"/><path d="M0,0.6 C-0.3,-1 -1.15,-2.4 -1.15,-3.55 A1.15,1.15 0 0 1 1.15,-3.55 C1.15,-2.4 0.3,-1 0,0.6 Z" transform="rotate(121)"/><path d="M0,0.6 C-0.3,-1 -1.15,-2.4 -1.15,-3.55 A1.15,1.15 0 0 1 1.15,-3.55 C1.15,-2.4 0.3,-1 0,0.6 Z" transform="rotate(239)"/><path d="M0,0.6 C-0.3,-1 -1.15,-2.4 -1.15,-3.55 A1.15,1.15 0 0 1 1.15,-3.55 C1.15,-2.4 0.3,-1 0,0.6 Z" transform="rotate(301)"/><circle r="1.3"/></g>
<g transform="translate(1210.15,1582.2) scale(1.0)" fill="#000"><path d="M0,0.6 C-0.3,-1 -1.15,-3.4 -1.15,-4.55 A1.15,1.15 0 0 1 1.15,-4.55 C1.15,-3.4 0.3,-1 0,0.6 Z"/><path d="M0,0.6 C-0.3,-1 -1.15,-3.4 -1.15,-4.55 A1.15,1.15 0 0 1 1.15,-4.55 C1.15,-3.4 0.3,-1 0,0.6 Z" transform="rotate(180)"/><path d="M0,0.6 C-0.3,-1 -1.15,-2.4 -1.15,-3.55 A1.15,1.15 0 0 1 1.15,-3.55 C1.15,-2.4 0.3,-1 0,0.6 Z" transform="rotate(59)"/><path d="M0,0.6 C-0.3,-1 -1.15,-2.4 -1.15,-3.55 A1.15,1.15 0 0 1 1.15,-3.55 C1.15,-2.4 0.3,-1 0,0.6 Z" transform="rotate(121)"/><path d="M0,0.6 C-0.3,-1 -1.15,-2.4 -1.15,-3.55 A1.15,1.15 0 0 1 1.15,-3.55 C1.15,-2.4 0.3,-1 0,0.6 Z" transform="rotate(239)"/><path d="M0,0.6 C-0.3,-1 -1.15,-2.4 -1.15,-3.55 A1.15,1.15 0 0 1 1.15,-3.55 C1.15,-2.4 0.3,-1 0,0.6 Z" transform="rotate(301)"/><circle r="1.3"/></g>
<text x="0" y="0" font-family='"Liberation Serif", serif' font-size="24.8" text-anchor="end" font-weight="normal" fill="#000" transform="translate(1197.5,1710.9) rotate(-45) scale(0.96,1)" stroke="#fff" stroke-width="0.2">PCC 5</text>
<line x1="1302.8" y1="1440.3" x2="1302.8" y2="1488.3" stroke="#808080" stroke-width="3.3" stroke-linecap="butt"/>
<line x1="1285.8" y1="1440.3" x2="1319.8" y2="1440.3" stroke="#808080" stroke-width="3.6" stroke-linecap="butt"/>
<rect x="1264.55" y="1486.3" width="76.5" height="188.3" fill="#808080"/>
<line x1="1302.8" y1="1674.6" x2="1302.8" y2="1685.6" stroke="#000" stroke-width="3.6" stroke-linecap="butt"/>
<text x="0" y="0" font-family='"Liberation Serif", serif' font-size="24.8" text-anchor="end" font-weight="normal" fill="#000" transform="translate(1307.8,1705.9) rotate(-45) scale(0.96,1)" stroke="#fff" stroke-width="0.2">Osi 5</text>
<line x1="1408.9" y1="1591.6" x2="1408.9" y2="1621.2" stroke="#a0a0a0" stroke-width="3.3" stroke-linecap="butt"/>
<line x1="1391.9" y1="1591.6" x2="1425.9" y2="1591.6" stroke="#a0a0a0" stroke-width="3.6" stroke-linecap="butt"/>
<rect x="1370.65" y="1619.2" width="76.5" height="55.4" fill="#a0a0a0"/>
<line x1="1408.9" y1="1674.6" x2="1408.9" y2="1685.6" stroke="#000" stroke-width="3.6" stroke-linecap="butt"/>
<g transform="translate(1395.25,1574.3) scale(1.0)" fill="#000"><path d="M0,0.6 C-0.3,-1 -1.15,-3.4 -1.15,-4.55 A1.15,1.15 0 0 1 1.15,-4.55 C1.15,-3.4 0.3,-1 0,0.6 Z"/><path d="M0,0.6 C-0.3,-1 -1.15,-3.4 -1.15,-4.55 A1.15,1.15 0 0 1 1.15,-4.55 C1.15,-3.4 0.3,-1 0,0.6 Z" transform="rotate(180)"/><path d="M0,0.6 C-0.3,-1 -1.15,-2.4 -1.15,-3.55 A1.15,1.15 0 0 1 1.15,-3.55 C1.15,-2.4 0.3,-1 0,0.6 Z" transform="rotate(59)"/><path d="M0,0.6 C-0.3,-1 -1.15,-2.4 -1.15,-3.55 A1.15,1.15 0 0 1 1.15,-3.55 C1.15,-2.4 0.3,-1 0,0.6 Z" transform="rotate(121)"/><path d="M0,0.6 C-0.3,-1 -1.15,-2.4 -1.15,-3.55 A1.15,1.15 0 0 1 1.15,-3.55 C1.15,-2.4 0.3,-1 0,0.6 Z" transform="rotate(239)"/><path d="M0,0.6 C-0.3,-1 -1.15,-2.4 -1.15,-3.55 A1.15,1.15 0 0 1 1.15,-3.55 C1.15,-2.4 0.3,-1 0,0.6 Z" transform="rotate(301)"/><circle r="1.3"/></g>
<g transform="translate(1408.9,1574.3) scale(1.0)" fill="#000"><path d="M0,0.6 C-0.3,-1 -1.15,-3.4 -1.15,-4.55 A1.15,1.15 0 0 1 1.15,-4.55 C1.15,-3.4 0.3,-1 0,0.6 Z"/><path d="M0,0.6 C-0.3,-1 -1.15,-3.4 -1.15,-4.55 A1.15,1.15 0 0 1 1.15,-4.55 C1.15,-3.4 0.3,-1 0,0.6 Z" transform="rotate(180)"/><path d="M0,0.6 C-0.3,-1 -1.15,-2.4 -1.15,-3.55 A1.15,1.15 0 0 1 1.15,-3.55 C1.15,-2.4 0.3,-1 0,0.6 Z" transform="rotate(59)"/><path d="M0,0.6 C-0.3,-1 -1.15,-2.4 -1.15,-3.55 A1.15,1.15 0 0 1 1.15,-3.55 C1.15,-2.4 0.3,-1 0,0.6 Z" transform="rotate(121)"/><path d="M0,0.6 C-0.3,-1 -1.15,-2.4 -1.15,-3.55 A1.15,1.15 0 0 1 1.15,-3.55 C1.15,-2.4 0.3,-1 0,0.6 Z" transform="rotate(239)"/><path d="M0,0.6 C-0.3,-1 -1.15,-2.4 -1.15,-3.55 A1.15,1.15 0 0 1 1.15,-3.55 C1.15,-2.4 0.3,-1 0,0.6 Z" transform="rotate(301)"/><circle r="1.3"/></g>
<g transform="translate(1422.55,1574.3) scale(1.0)" fill="#000"><path d="M0,0.6 C-0.3,-1 -1.15,-3.4 -1.15,-4.55 A1.15,1.15 0 0 1 1.15,-4.55 C1.15,-3.4 0.3,-1 0,0.6 Z"/><path d="M0,0.6 C-0.3,-1 -1.15,-3.4 -1.15,-4.55 A1.15,1.15 0 0 1 1.15,-4.55 C1.15,-3.4 0.3,-1 0,0.6 Z" transform="rotate(180)"/><path d="M0,0.6 C-0.3,-1 -1.15,-2.4 -1.15,-3.55 A1.15,1.15 0 0 1 1.15,-3.55 C1.15,-2.4 0.3,-1 0,0.6 Z" transform="rotate(59)"/><path d="M0,0.6 C-0.3,-1 -1.15,-2.4 -1.15,-3.55 A1.15,1.15 0 0 1 1.15,-3.55 C1.15,-2.4 0.3,-1 0,0.6 Z" transform="rotate(121)"/><path d="M0,0.6 C-0.3,-1 -1.15,-2.4 -1.15,-3.55 A1.15,1.15 0 0 1 1.15,-3.55 C1.15,-2.4 0.3,-1 0,0.6 Z" transform="rotate(239)"/><path d="M0,0.6 C-0.3,-1 -1.15,-2.4 -1.15,-3.55 A1.15,1.15 0 0 1 1.15,-3.55 C1.15,-2.4 0.3,-1 0,0.6 Z" transform="rotate(301)"/><circle r="1.3"/></g>
<text x="0" y="0" font-family='"Liberation Serif", serif' font-size="24.8" text-anchor="end" font-weight="normal" fill="#000" transform="translate(1415.9,1704.4) rotate(-45) scale(0.96,1)" stroke="#fff" stroke-width="0.2">Poz 2.5</text>
<text x="0" y="0" font-family='"Liberation Serif", serif' font-size="28.6" text-anchor="middle" transform="translate(845.5,1478.6) rotate(-90)">Mean Tumor weight (g)</text>
<text x="0" y="0" font-family='"Liberation Serif", serif' font-size="28.3" text-anchor="middle" font-weight="normal" fill="#000" transform="translate(752.2,19.3) scale(0.955,1)" stroke="#fff" stroke-width="0.2">HCC827</text>
<text x="0" y="0" font-family='"Liberation Serif", serif' font-size="28.7" text-anchor="middle" font-weight="normal" fill="#000" transform="translate(764,629.8) scale(0.965,1)" stroke="#fff" stroke-width="0.2">NCI-H1975</text>
<text x="0" y="0" font-family='"Liberation Serif", serif' font-size="28.3" text-anchor="middle" font-weight="normal" fill="#000" transform="translate(758.5,1216.8) scale(0.955,1)" stroke="#fff" stroke-width="0.2">Calu-3</text>
<text x="-1" y="276.5" font-family='"Liberation Sans", sans-serif' font-size="34" text-anchor="start" font-weight="bold" fill="#000">a</text>
<text x="-2.3" y="882.3" font-family='"Liberation Sans", sans-serif' font-size="34" text-anchor="start" font-weight="bold" fill="#000">b</text>
<text x="-0.5" y="1495.7" font-family='"Liberation Sans", sans-serif' font-size="34" text-anchor="start" font-weight="bold" fill="#000">c</text></svg>
</body></html>
